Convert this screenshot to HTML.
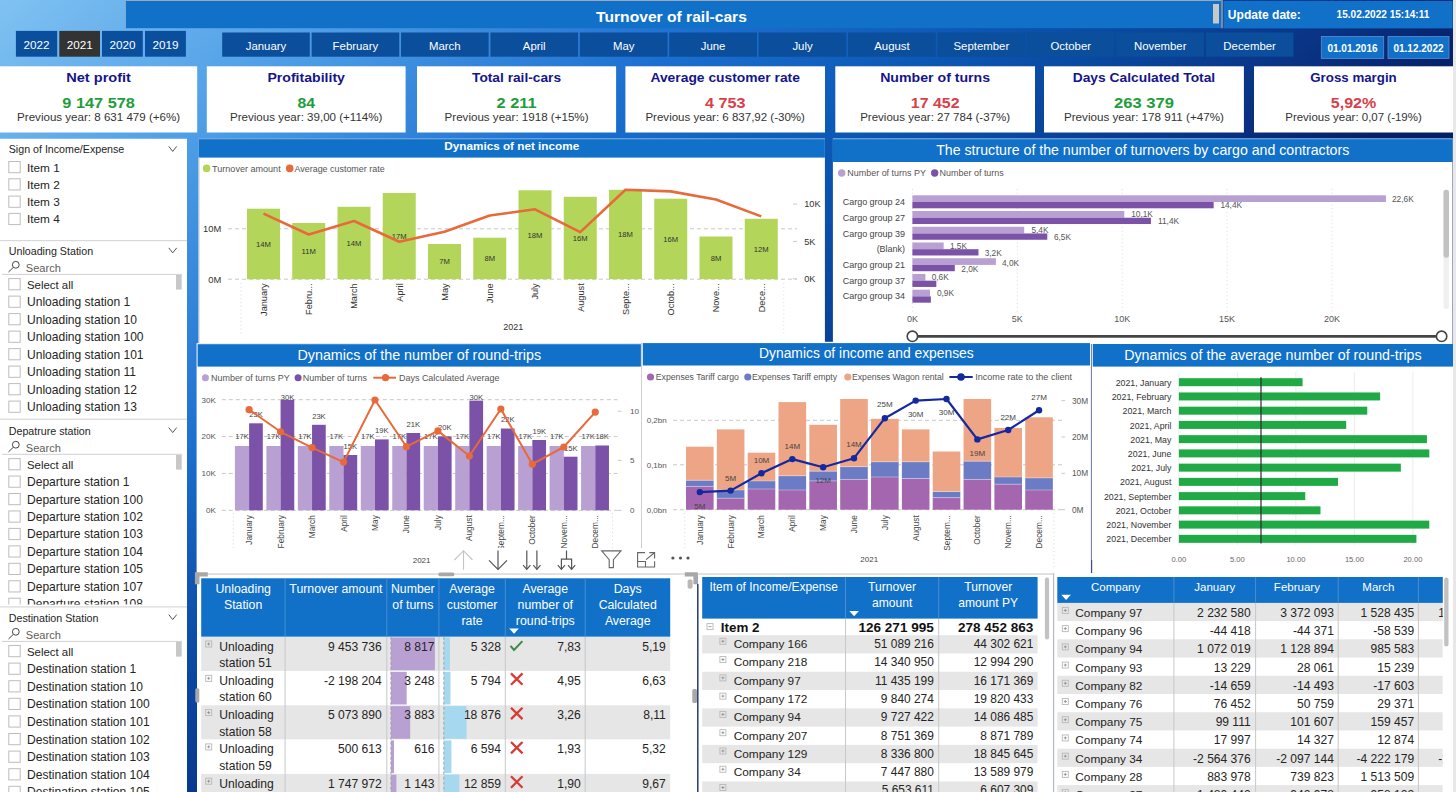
<!DOCTYPE html>
<html><head><meta charset="utf-8"><title>Turnover of rail-cars</title>
<style>html,body{margin:0;padding:0;width:1456px;height:792px;overflow:hidden;background:#0a3f92}
svg{display:block;font-family:"Liberation Sans", sans-serif}</style></head>
<body><svg width="1456" height="792" viewBox="0 0 1456 792">
<defs>
<linearGradient id="bg" x1="0" y1="0" x2="1000" y2="1200" gradientUnits="userSpaceOnUse">
<stop offset="0" stop-color="#80c2f2"/>
<stop offset="0.148" stop-color="#4d9de6"/>
<stop offset="0.30" stop-color="#1c6fd0"/>
<stop offset="0.41" stop-color="#0c58b4"/>
<stop offset="0.47" stop-color="#0a4aa2"/>
<stop offset="0.56" stop-color="#0a3384"/>
<stop offset="0.63" stop-color="#071f66"/>
<stop offset="1" stop-color="#061a5c"/>
</linearGradient>
<linearGradient id="bgv" x1="0" y1="450" x2="0" y2="792" gradientUnits="userSpaceOnUse">
<stop offset="0" stop-color="#062a80" stop-opacity="0"/>
<stop offset="1" stop-color="#062a80" stop-opacity="0.55"/>
</linearGradient>
</defs>
<rect x="0.00" y="0.00" width="1456.00" height="792.00" fill="url(#bg)" />
<rect x="0.00" y="450.00" width="1456.00" height="342.00" fill="url(#bgv)" />
<rect x="1453.00" y="0.00" width="3.00" height="792.00" fill="#e8e8e8" />
<rect x="126.00" y="0.00" width="1096.00" height="1.20" fill="#9aa8b8" />
<rect x="125.50" y="0.00" width="1.00" height="28.20" fill="#8aa0b8" />
<rect x="126.00" y="1.00" width="1096.00" height="27.20" fill="#1170c8" />
<text x="671.50" y="21.90" font-size="14.4" fill="#fff" font-weight="bold" text-anchor="middle" textLength="150.8" lengthAdjust="spacingAndGlyphs" >Turnover of rail-cars</text>
<rect x="1213.00" y="4.00" width="6.00" height="19.50" fill="#c8c8c8" />
<rect x="1221.00" y="0.00" width="2.00" height="28.20" fill="#7b8aa0" />
<rect x="1223.50" y="1.00" width="229.20" height="27.40" fill="#1170c8" />
<text x="1227.80" y="18.60" font-size="12.07" fill="#fff" font-weight="bold" text-anchor="start" >Update date:</text>
<text x="1336.60" y="18.00" font-size="10.06" fill="#fff" font-weight="bold" text-anchor="start" >15.02.2022 15:14:11</text>
<rect x="15.90" y="30.90" width="41.30" height="25.80" fill="#0a4f9e" />
<text x="36.55" y="48.90" font-size="11.7" fill="#fff" font-weight="normal" text-anchor="middle" >2022</text>
<rect x="59.30" y="30.90" width="40.70" height="25.80" fill="#333333" />
<text x="79.65" y="48.90" font-size="11.7" fill="#fff" font-weight="normal" text-anchor="middle" >2021</text>
<rect x="102.00" y="30.90" width="40.80" height="25.80" fill="#0a4f9e" />
<text x="122.40" y="48.90" font-size="11.7" fill="#fff" font-weight="normal" text-anchor="middle" >2020</text>
<rect x="145.00" y="30.90" width="40.90" height="25.80" fill="#0a4f9e" />
<text x="165.45" y="48.90" font-size="11.7" fill="#fff" font-weight="normal" text-anchor="middle" >2019</text>
<rect x="222.20" y="32.50" width="87.60" height="24.20" fill="#0b4e9c" />
<text x="266.00" y="49.70" font-size="11.4" fill="#fff" font-weight="normal" text-anchor="middle" >January</text>
<rect x="311.62" y="32.50" width="87.60" height="24.20" fill="#0b4e9c" />
<text x="355.42" y="49.70" font-size="11.4" fill="#fff" font-weight="normal" text-anchor="middle" >February</text>
<rect x="401.04" y="32.50" width="87.60" height="24.20" fill="#0b4e9c" />
<text x="444.84" y="49.70" font-size="11.4" fill="#fff" font-weight="normal" text-anchor="middle" >March</text>
<rect x="490.46" y="32.50" width="87.60" height="24.20" fill="#0b4e9c" />
<text x="534.26" y="49.70" font-size="11.4" fill="#fff" font-weight="normal" text-anchor="middle" >April</text>
<rect x="579.88" y="32.50" width="87.60" height="24.20" fill="#0b4e9c" />
<text x="623.68" y="49.70" font-size="11.4" fill="#fff" font-weight="normal" text-anchor="middle" >May</text>
<rect x="669.30" y="32.50" width="87.60" height="24.20" fill="#0b4e9c" />
<text x="713.10" y="49.70" font-size="11.4" fill="#fff" font-weight="normal" text-anchor="middle" >June</text>
<rect x="758.72" y="32.50" width="87.60" height="24.20" fill="#0b4e9c" />
<text x="802.52" y="49.70" font-size="11.4" fill="#fff" font-weight="normal" text-anchor="middle" >July</text>
<rect x="848.14" y="32.50" width="87.60" height="24.20" fill="#0b4e9c" />
<text x="891.94" y="49.70" font-size="11.4" fill="#fff" font-weight="normal" text-anchor="middle" >August</text>
<rect x="937.56" y="32.50" width="87.60" height="24.20" fill="#0b4e9c" />
<text x="981.36" y="49.70" font-size="11.4" fill="#fff" font-weight="normal" text-anchor="middle" >September</text>
<rect x="1026.98" y="32.50" width="87.60" height="24.20" fill="#0b4e9c" />
<text x="1070.78" y="49.70" font-size="11.4" fill="#fff" font-weight="normal" text-anchor="middle" >October</text>
<rect x="1116.40" y="32.50" width="87.60" height="24.20" fill="#0b4e9c" />
<text x="1160.20" y="49.70" font-size="11.4" fill="#fff" font-weight="normal" text-anchor="middle" >November</text>
<rect x="1205.82" y="32.50" width="87.60" height="24.20" fill="#0b4e9c" />
<text x="1249.62" y="49.70" font-size="11.4" fill="#fff" font-weight="normal" text-anchor="middle" >December</text>
<rect x="1321.30" y="36.40" width="62.40" height="22.00" fill="#1170c8"  stroke="#5a8fd0" stroke-width="0.8"/>
<text x="1352.50" y="51.50" font-size="10" fill="#fff" font-weight="bold" text-anchor="middle" >01.01.2016</text>
<rect x="1388.00" y="36.40" width="61.00" height="22.00" fill="#1170c8"  stroke="#5a8fd0" stroke-width="0.8"/>
<text x="1418.50" y="51.50" font-size="10" fill="#fff" font-weight="bold" text-anchor="middle" >01.12.2022</text>
<rect x="0.00" y="66.30" width="197.20" height="66.20" fill="#fff" />
<text x="98.60" y="81.80" font-size="13.0" fill="#15158a" font-weight="bold" text-anchor="middle" textLength="64.7" lengthAdjust="spacingAndGlyphs" >Net profit</text>
<text x="98.60" y="107.90" font-size="14.8" fill="#1e9e3a" font-weight="bold" text-anchor="middle" textLength="72.5" lengthAdjust="spacingAndGlyphs" >9 147 578</text>
<text x="98.60" y="120.90" font-size="11.57" fill="#333" font-weight="normal" text-anchor="middle" textLength="163.0" lengthAdjust="spacingAndGlyphs" >Previous year: 8 631 479 (+6%)</text>
<rect x="206.80" y="66.30" width="198.80" height="66.20" fill="#fff" />
<text x="306.20" y="81.80" font-size="13.0" fill="#15158a" font-weight="bold" text-anchor="middle" textLength="77.5" lengthAdjust="spacingAndGlyphs" >Profitability</text>
<text x="306.20" y="107.90" font-size="14.8" fill="#1e9e3a" font-weight="bold" text-anchor="middle" textLength="17.5" lengthAdjust="spacingAndGlyphs" >84</text>
<text x="306.20" y="120.90" font-size="11.57" fill="#333" font-weight="normal" text-anchor="middle" textLength="152.5" lengthAdjust="spacingAndGlyphs" >Previous year: 39,00 (+114%)</text>
<rect x="417.00" y="66.30" width="199.10" height="66.20" fill="#fff" />
<text x="516.55" y="81.80" font-size="13.0" fill="#15158a" font-weight="bold" text-anchor="middle" textLength="89.0" lengthAdjust="spacingAndGlyphs" >Total rail-cars</text>
<text x="516.55" y="107.90" font-size="14.8" fill="#1e9e3a" font-weight="bold" text-anchor="middle" textLength="40.0" lengthAdjust="spacingAndGlyphs" >2 211</text>
<text x="516.55" y="120.90" font-size="11.57" fill="#333" font-weight="normal" text-anchor="middle" textLength="144.0" lengthAdjust="spacingAndGlyphs" >Previous year: 1918 (+15%)</text>
<rect x="625.40" y="66.30" width="199.60" height="66.20" fill="#fff" />
<text x="725.20" y="81.80" font-size="13.0" fill="#15158a" font-weight="bold" text-anchor="middle" textLength="149.5" lengthAdjust="spacingAndGlyphs" >Average customer rate</text>
<text x="725.20" y="107.90" font-size="14.8" fill="#d9404a" font-weight="bold" text-anchor="middle" textLength="40.5" lengthAdjust="spacingAndGlyphs" >4 753</text>
<text x="725.20" y="120.90" font-size="11.57" fill="#333" font-weight="normal" text-anchor="middle" textLength="159.5" lengthAdjust="spacingAndGlyphs" >Previous year: 6 837,92 (-30%)</text>
<rect x="835.30" y="66.30" width="199.70" height="66.20" fill="#fff" />
<text x="935.15" y="81.80" font-size="13.0" fill="#15158a" font-weight="bold" text-anchor="middle" textLength="110.0" lengthAdjust="spacingAndGlyphs" >Number of turns</text>
<text x="935.15" y="107.90" font-size="14.8" fill="#d9404a" font-weight="bold" text-anchor="middle" textLength="48.7" lengthAdjust="spacingAndGlyphs" >17 452</text>
<text x="935.15" y="120.90" font-size="11.57" fill="#333" font-weight="normal" text-anchor="middle" textLength="150.0" lengthAdjust="spacingAndGlyphs" >Previous year: 27 784 (-37%)</text>
<rect x="1044.00" y="66.30" width="199.90" height="66.20" fill="#fff" />
<text x="1143.95" y="81.80" font-size="13.0" fill="#15158a" font-weight="bold" text-anchor="middle" textLength="142.5" lengthAdjust="spacingAndGlyphs" >Days Calculated Total</text>
<text x="1143.95" y="107.90" font-size="14.8" fill="#1e9e3a" font-weight="bold" text-anchor="middle" textLength="60.0" lengthAdjust="spacingAndGlyphs" >263 379</text>
<text x="1143.95" y="120.90" font-size="11.57" fill="#333" font-weight="normal" text-anchor="middle" textLength="160.0" lengthAdjust="spacingAndGlyphs" >Previous year: 178 911 (+47%)</text>
<rect x="1254.00" y="66.30" width="199.00" height="66.20" fill="#fff" />
<text x="1353.50" y="81.80" font-size="13.0" fill="#15158a" font-weight="bold" text-anchor="middle" textLength="86.5" lengthAdjust="spacingAndGlyphs" >Gross margin</text>
<text x="1353.50" y="107.90" font-size="14.8" fill="#d9404a" font-weight="bold" text-anchor="middle" textLength="45.5" lengthAdjust="spacingAndGlyphs" >5,92%</text>
<text x="1353.50" y="120.90" font-size="11.57" fill="#333" font-weight="normal" text-anchor="middle" textLength="136.5" lengthAdjust="spacingAndGlyphs" >Previous year: 0,07 (-19%)</text>
<rect x="0.00" y="138.75" width="187.00" height="653.25" fill="#fff" />
<text x="8.75" y="153.30" font-size="10.66" fill="#252423" font-weight="normal" text-anchor="start" >Sign of Income/Expense</text>
<polyline points="168.8,146.40 172.7,151.40 176.7,146.40" fill="none" stroke="#555" stroke-width="1"/>
<rect x="8.80" y="161.50" width="11.40" height="11.20" fill="#fff"  stroke="#bdbdbd" stroke-width="1"/>
<text x="27.00" y="171.50" font-size="11.8" fill="#252423" font-weight="normal" text-anchor="start" >Item 1</text>
<rect x="8.80" y="178.80" width="11.40" height="11.20" fill="#fff"  stroke="#bdbdbd" stroke-width="1"/>
<text x="27.00" y="188.80" font-size="11.8" fill="#252423" font-weight="normal" text-anchor="start" >Item 2</text>
<rect x="8.80" y="196.10" width="11.40" height="11.20" fill="#fff"  stroke="#bdbdbd" stroke-width="1"/>
<text x="27.00" y="206.10" font-size="11.8" fill="#252423" font-weight="normal" text-anchor="start" >Item 3</text>
<rect x="8.80" y="213.40" width="11.40" height="11.20" fill="#fff"  stroke="#bdbdbd" stroke-width="1"/>
<text x="27.00" y="223.40" font-size="11.8" fill="#252423" font-weight="normal" text-anchor="start" >Item 4</text>
<rect x="0.00" y="240.00" width="187.00" height="1.20" fill="#d8d8d8" />
<text x="8.75" y="254.80" font-size="10.69" fill="#252423" font-weight="normal" text-anchor="start" >Unloading Station</text>
<polyline points="168.8,247.90 172.7,252.90 176.7,247.90" fill="none" stroke="#555" stroke-width="1"/>
<circle cx="15.8" cy="264.80" r="3.4" fill="none" stroke="#444" stroke-width="1"/>
<line x1="8.50" y1="272.00" x2="13.30" y2="267.40" stroke="#444" stroke-width="1" />
<text x="25.80" y="271.70" font-size="11.05" fill="#605e5c" font-weight="normal" text-anchor="start" >Search</text>
<rect x="2.00" y="273.90" width="180.00" height="1.00" fill="#d0d0d0" />
<rect x="176.00" y="275.00" width="5.70" height="14.60" fill="#c8c8c8" />
<rect x="8.80" y="278.60" width="11.40" height="11.20" fill="#fff"  stroke="#bdbdbd" stroke-width="1"/>
<text x="27.00" y="288.60" font-size="11.41" fill="#252423" font-weight="normal" text-anchor="start" >Select all</text>
<rect x="8.80" y="296.10" width="11.40" height="11.20" fill="#fff"  stroke="#bdbdbd" stroke-width="1"/>
<text x="27.00" y="306.10" font-size="12.05" fill="#252423" font-weight="normal" text-anchor="start" >Unloading station 1</text>
<rect x="8.80" y="313.60" width="11.40" height="11.20" fill="#fff"  stroke="#bdbdbd" stroke-width="1"/>
<text x="27.00" y="323.60" font-size="12.05" fill="#252423" font-weight="normal" text-anchor="start" >Unloading station 10</text>
<rect x="8.80" y="331.10" width="11.40" height="11.20" fill="#fff"  stroke="#bdbdbd" stroke-width="1"/>
<text x="27.00" y="341.10" font-size="12.05" fill="#252423" font-weight="normal" text-anchor="start" >Unloading station 100</text>
<rect x="8.80" y="348.60" width="11.40" height="11.20" fill="#fff"  stroke="#bdbdbd" stroke-width="1"/>
<text x="27.00" y="358.60" font-size="12.05" fill="#252423" font-weight="normal" text-anchor="start" >Unloading station 101</text>
<rect x="8.80" y="366.10" width="11.40" height="11.20" fill="#fff"  stroke="#bdbdbd" stroke-width="1"/>
<text x="27.00" y="376.10" font-size="12.05" fill="#252423" font-weight="normal" text-anchor="start" >Unloading station 11</text>
<rect x="8.80" y="383.60" width="11.40" height="11.20" fill="#fff"  stroke="#bdbdbd" stroke-width="1"/>
<text x="27.00" y="393.60" font-size="12.05" fill="#252423" font-weight="normal" text-anchor="start" >Unloading station 12</text>
<rect x="8.80" y="401.10" width="11.40" height="11.20" fill="#fff"  stroke="#bdbdbd" stroke-width="1"/>
<text x="27.00" y="411.10" font-size="12.05" fill="#252423" font-weight="normal" text-anchor="start" >Unloading station 13</text>
<rect x="0.00" y="418.60" width="187.00" height="1.20" fill="#d8d8d8" />
<text x="8.75" y="434.50" font-size="10.69" fill="#252423" font-weight="normal" text-anchor="start" >Depatrure station</text>
<polyline points="168.8,427.60 172.7,432.60 176.7,427.60" fill="none" stroke="#555" stroke-width="1"/>
<circle cx="15.8" cy="444.70" r="3.4" fill="none" stroke="#444" stroke-width="1"/>
<line x1="8.50" y1="451.90" x2="13.30" y2="447.30" stroke="#444" stroke-width="1" />
<text x="25.80" y="451.60" font-size="11.05" fill="#605e5c" font-weight="normal" text-anchor="start" >Search</text>
<rect x="2.00" y="453.80" width="180.00" height="1.00" fill="#d0d0d0" />
<rect x="176.00" y="455.00" width="5.70" height="14.60" fill="#c8c8c8" />
<clipPath id="cs3"><rect x="0" y="455" width="187" height="149.5"/></clipPath><g clip-path="url(#cs3)">
<rect x="8.80" y="458.60" width="11.40" height="11.20" fill="#fff"  stroke="#bdbdbd" stroke-width="1"/>
<text x="27.00" y="468.60" font-size="11.41" fill="#252423" font-weight="normal" text-anchor="start" >Select all</text>
<rect x="8.80" y="476.05" width="11.40" height="11.20" fill="#fff"  stroke="#bdbdbd" stroke-width="1"/>
<text x="27.00" y="486.05" font-size="12.05" fill="#252423" font-weight="normal" text-anchor="start" >Departure station 1</text>
<rect x="8.80" y="493.50" width="11.40" height="11.20" fill="#fff"  stroke="#bdbdbd" stroke-width="1"/>
<text x="27.00" y="503.50" font-size="12.05" fill="#252423" font-weight="normal" text-anchor="start" >Departure station 100</text>
<rect x="8.80" y="510.95" width="11.40" height="11.20" fill="#fff"  stroke="#bdbdbd" stroke-width="1"/>
<text x="27.00" y="520.95" font-size="12.05" fill="#252423" font-weight="normal" text-anchor="start" >Departure station 102</text>
<rect x="8.80" y="528.40" width="11.40" height="11.20" fill="#fff"  stroke="#bdbdbd" stroke-width="1"/>
<text x="27.00" y="538.40" font-size="12.05" fill="#252423" font-weight="normal" text-anchor="start" >Departure station 103</text>
<rect x="8.80" y="545.85" width="11.40" height="11.20" fill="#fff"  stroke="#bdbdbd" stroke-width="1"/>
<text x="27.00" y="555.85" font-size="12.05" fill="#252423" font-weight="normal" text-anchor="start" >Departure station 104</text>
<rect x="8.80" y="563.30" width="11.40" height="11.20" fill="#fff"  stroke="#bdbdbd" stroke-width="1"/>
<text x="27.00" y="573.30" font-size="12.05" fill="#252423" font-weight="normal" text-anchor="start" >Departure station 105</text>
<rect x="8.80" y="580.75" width="11.40" height="11.20" fill="#fff"  stroke="#bdbdbd" stroke-width="1"/>
<text x="27.00" y="590.75" font-size="12.05" fill="#252423" font-weight="normal" text-anchor="start" >Departure station 107</text>
<rect x="8.80" y="598.20" width="11.40" height="11.20" fill="#fff"  stroke="#bdbdbd" stroke-width="1"/>
<text x="27.00" y="608.20" font-size="12.05" fill="#252423" font-weight="normal" text-anchor="start" >Departure station 108</text>
</g>
<rect x="0.00" y="606.30" width="187.00" height="1.20" fill="#d8d8d8" />
<text x="8.75" y="621.50" font-size="10.69" fill="#252423" font-weight="normal" text-anchor="start" >Destination Station</text>
<polyline points="168.8,614.60 172.7,619.60 176.7,614.60" fill="none" stroke="#555" stroke-width="1"/>
<circle cx="15.8" cy="631.80" r="3.4" fill="none" stroke="#444" stroke-width="1"/>
<line x1="8.50" y1="639.00" x2="13.30" y2="634.40" stroke="#444" stroke-width="1" />
<text x="25.80" y="638.70" font-size="11.05" fill="#605e5c" font-weight="normal" text-anchor="start" >Search</text>
<rect x="2.00" y="640.90" width="180.00" height="1.00" fill="#d0d0d0" />
<rect x="176.00" y="642.00" width="5.70" height="14.60" fill="#c8c8c8" />
<rect x="8.80" y="645.50" width="11.40" height="11.20" fill="#fff"  stroke="#bdbdbd" stroke-width="1"/>
<text x="27.00" y="655.50" font-size="11.41" fill="#252423" font-weight="normal" text-anchor="start" >Select all</text>
<rect x="8.80" y="663.10" width="11.40" height="11.20" fill="#fff"  stroke="#bdbdbd" stroke-width="1"/>
<text x="27.00" y="673.10" font-size="12.07" fill="#252423" font-weight="normal" text-anchor="start" >Destination station 1</text>
<rect x="8.80" y="680.70" width="11.40" height="11.20" fill="#fff"  stroke="#bdbdbd" stroke-width="1"/>
<text x="27.00" y="690.70" font-size="12.07" fill="#252423" font-weight="normal" text-anchor="start" >Destination station 10</text>
<rect x="8.80" y="698.30" width="11.40" height="11.20" fill="#fff"  stroke="#bdbdbd" stroke-width="1"/>
<text x="27.00" y="708.30" font-size="12.07" fill="#252423" font-weight="normal" text-anchor="start" >Destination station 100</text>
<rect x="8.80" y="715.90" width="11.40" height="11.20" fill="#fff"  stroke="#bdbdbd" stroke-width="1"/>
<text x="27.00" y="725.90" font-size="12.07" fill="#252423" font-weight="normal" text-anchor="start" >Destination station 101</text>
<rect x="8.80" y="733.50" width="11.40" height="11.20" fill="#fff"  stroke="#bdbdbd" stroke-width="1"/>
<text x="27.00" y="743.50" font-size="12.07" fill="#252423" font-weight="normal" text-anchor="start" >Destination station 102</text>
<rect x="8.80" y="751.10" width="11.40" height="11.20" fill="#fff"  stroke="#bdbdbd" stroke-width="1"/>
<text x="27.00" y="761.10" font-size="12.07" fill="#252423" font-weight="normal" text-anchor="start" >Destination station 103</text>
<rect x="8.80" y="768.70" width="11.40" height="11.20" fill="#fff"  stroke="#bdbdbd" stroke-width="1"/>
<text x="27.00" y="778.70" font-size="12.07" fill="#252423" font-weight="normal" text-anchor="start" >Destination station 104</text>
<rect x="8.80" y="786.30" width="11.40" height="11.20" fill="#fff"  stroke="#bdbdbd" stroke-width="1"/>
<text x="27.00" y="796.30" font-size="12.07" fill="#252423" font-weight="normal" text-anchor="start" >Destination station 105</text>
<rect x="198.60" y="138.50" width="626.30" height="204.80" fill="#fff" />
<rect x="198.60" y="138.50" width="626.30" height="19.10" fill="#1170c8" />
<rect x="198.60" y="138.50" width="626.30" height="0.80" fill="#7fb0e0" />
<text x="511.75" y="150.40" font-size="11.72" fill="#fff" font-weight="bold" text-anchor="middle" >Dynamics of net income</text>
<rect x="198.60" y="157.60" width="1.00" height="185.60" fill="#d0d0d0" />
<circle cx="206.60" cy="168.40" r="3.8" fill="#b3d65a" />
<text x="212.10" y="171.70" font-size="9.05" fill="#555" font-weight="normal" text-anchor="start" >Turnover amount</text>
<circle cx="289.70" cy="168.40" r="3.8" fill="#e8693a" />
<text x="294.50" y="171.70" font-size="8.94" fill="#555" font-weight="normal" text-anchor="start" >Average customer rate</text>
<line x1="228.00" y1="228.80" x2="797.00" y2="228.80" stroke="#c8c8c8" stroke-width="1" stroke-dasharray="4 3"/>
<line x1="228.00" y1="279.20" x2="797.00" y2="279.20" stroke="#c8c8c8" stroke-width="1" stroke-dasharray="4 3"/>
<text x="221.20" y="232.10" font-size="9.36" fill="#333" font-weight="normal" text-anchor="end" >10M</text>
<text x="221.20" y="282.60" font-size="9.36" fill="#333" font-weight="normal" text-anchor="end" >0M</text>
<line x1="793.00" y1="204.10" x2="797.00" y2="204.10" stroke="#c8c8c8" stroke-width="1" />
<text x="804.20" y="207.40" font-size="9.2" fill="#333" font-weight="normal" text-anchor="start" >10K</text>
<line x1="793.00" y1="241.40" x2="797.00" y2="241.40" stroke="#c8c8c8" stroke-width="1" />
<text x="804.20" y="244.70" font-size="9.2" fill="#333" font-weight="normal" text-anchor="start" >5K</text>
<line x1="793.00" y1="278.80" x2="797.00" y2="278.80" stroke="#c8c8c8" stroke-width="1" />
<text x="804.20" y="282.10" font-size="9.2" fill="#333" font-weight="normal" text-anchor="start" >0K</text>
<rect x="247.00" y="208.70" width="33.00" height="70.50" fill="#b3d65a" />
<rect x="292.25" y="223.00" width="33.00" height="56.20" fill="#b3d65a" />
<rect x="337.50" y="206.80" width="33.00" height="72.40" fill="#b3d65a" />
<rect x="382.75" y="193.00" width="33.00" height="86.20" fill="#b3d65a" />
<rect x="428.00" y="244.00" width="33.00" height="35.20" fill="#b3d65a" />
<rect x="473.25" y="237.70" width="33.00" height="41.50" fill="#b3d65a" />
<rect x="518.50" y="190.30" width="33.00" height="88.90" fill="#b3d65a" />
<rect x="563.75" y="196.80" width="33.00" height="82.40" fill="#b3d65a" />
<rect x="609.00" y="189.80" width="33.00" height="89.40" fill="#b3d65a" />
<rect x="654.25" y="198.70" width="33.00" height="80.50" fill="#b3d65a" />
<rect x="699.50" y="236.50" width="33.00" height="42.70" fill="#b3d65a" />
<rect x="744.75" y="218.80" width="33.00" height="60.40" fill="#b3d65a" />
<text x="263.50" y="246.75" font-size="7.66" fill="#333" font-weight="normal" text-anchor="middle" >14M</text>
<text x="308.75" y="253.90" font-size="7.66" fill="#333" font-weight="normal" text-anchor="middle" >11M</text>
<text x="354.00" y="245.80" font-size="7.66" fill="#333" font-weight="normal" text-anchor="middle" >14M</text>
<text x="399.25" y="238.90" font-size="7.66" fill="#333" font-weight="normal" text-anchor="middle" >17M</text>
<text x="444.50" y="264.40" font-size="7.66" fill="#333" font-weight="normal" text-anchor="middle" >7M</text>
<text x="489.75" y="261.25" font-size="7.66" fill="#333" font-weight="normal" text-anchor="middle" >8M</text>
<text x="535.00" y="237.55" font-size="7.66" fill="#333" font-weight="normal" text-anchor="middle" >18M</text>
<text x="580.25" y="240.80" font-size="7.66" fill="#333" font-weight="normal" text-anchor="middle" >16M</text>
<text x="625.50" y="237.30" font-size="7.66" fill="#333" font-weight="normal" text-anchor="middle" >18M</text>
<text x="670.75" y="241.75" font-size="7.66" fill="#333" font-weight="normal" text-anchor="middle" >16M</text>
<text x="716.00" y="260.65" font-size="7.66" fill="#333" font-weight="normal" text-anchor="middle" >8M</text>
<text x="761.25" y="251.80" font-size="7.66" fill="#333" font-weight="normal" text-anchor="middle" >12M</text>
<polyline points="263.50,213.60 308.75,234.50 354.00,221.00 399.25,241.80 444.50,231.80 489.75,215.50 535.00,209.30 580.25,232.10 625.50,189.80 670.75,191.40 716.00,199.50 761.25,216.40" stroke="#e8693a" stroke-width="2.6" fill="none" stroke-linejoin="round" />
<text transform="translate(266.90,283.30) rotate(-90)" font-size="9.19" fill="#333" text-anchor="end" >January</text>
<text transform="translate(312.15,283.30) rotate(-90)" font-size="9.19" fill="#333" text-anchor="end" >Febru...</text>
<text transform="translate(357.40,283.30) rotate(-90)" font-size="9.19" fill="#333" text-anchor="end" >March</text>
<text transform="translate(402.65,283.30) rotate(-90)" font-size="9.19" fill="#333" text-anchor="end" >April</text>
<text transform="translate(447.90,283.30) rotate(-90)" font-size="9.19" fill="#333" text-anchor="end" >May</text>
<text transform="translate(493.15,283.30) rotate(-90)" font-size="9.19" fill="#333" text-anchor="end" >June</text>
<text transform="translate(538.40,283.30) rotate(-90)" font-size="9.19" fill="#333" text-anchor="end" >July</text>
<text transform="translate(583.65,283.30) rotate(-90)" font-size="9.19" fill="#333" text-anchor="end" >August</text>
<text transform="translate(628.90,283.30) rotate(-90)" font-size="9.19" fill="#333" text-anchor="end" >Septe...</text>
<text transform="translate(674.15,283.30) rotate(-90)" font-size="9.19" fill="#333" text-anchor="end" >Octob...</text>
<text transform="translate(719.40,283.30) rotate(-90)" font-size="9.19" fill="#333" text-anchor="end" >Nove...</text>
<text transform="translate(764.65,283.30) rotate(-90)" font-size="9.19" fill="#333" text-anchor="end" >Dece...</text>
<text x="503.30" y="330.20" font-size="9.0" fill="#333" font-weight="normal" text-anchor="start" >2021</text>
<line x1="241.00" y1="283.00" x2="241.00" y2="336.00" stroke="#d8d8d8" stroke-width="1" stroke-dasharray="1 2.8"/>
<line x1="783.80" y1="283.00" x2="783.80" y2="336.00" stroke="#d8d8d8" stroke-width="1" stroke-dasharray="1 2.8"/>
<rect x="832.90" y="138.50" width="619.70" height="205.70" fill="#fff" />
<rect x="832.90" y="138.50" width="619.70" height="23.50" fill="#1170c8" />
<rect x="832.90" y="138.50" width="619.70" height="0.80" fill="#7fb0e0" />
<text x="1142.75" y="155.30" font-size="14.17" fill="#fff" font-weight="normal" text-anchor="middle" >The structure of the number of turnovers by cargo and contractors</text>
<rect x="824.00" y="341.80" width="10.00" height="2.00" fill="#fff" />
<circle cx="841.70" cy="173.00" r="3.7" fill="#b9a0d3" />
<text x="847.30" y="176.40" font-size="8.96" fill="#555" font-weight="normal" text-anchor="start" >Number of turns PY</text>
<circle cx="934.70" cy="173.00" r="3.7" fill="#7b52a8" />
<text x="939.60" y="176.40" font-size="8.96" fill="#555" font-weight="normal" text-anchor="start" >Number of turns</text>
<line x1="912.40" y1="189.00" x2="912.40" y2="312.00" stroke="#dcdcdc" stroke-width="1" stroke-dasharray="1 2.8"/>
<text x="912.40" y="321.70" font-size="9.0" fill="#555" font-weight="normal" text-anchor="middle" >0K</text>
<line x1="1017.30" y1="189.00" x2="1017.30" y2="312.00" stroke="#dcdcdc" stroke-width="1" stroke-dasharray="1 2.8"/>
<text x="1017.30" y="321.70" font-size="9.0" fill="#555" font-weight="normal" text-anchor="middle" >5K</text>
<line x1="1122.20" y1="189.00" x2="1122.20" y2="312.00" stroke="#dcdcdc" stroke-width="1" stroke-dasharray="1 2.8"/>
<text x="1122.20" y="321.70" font-size="9.0" fill="#555" font-weight="normal" text-anchor="middle" >10K</text>
<line x1="1227.10" y1="189.00" x2="1227.10" y2="312.00" stroke="#dcdcdc" stroke-width="1" stroke-dasharray="1 2.8"/>
<text x="1227.10" y="321.70" font-size="9.0" fill="#555" font-weight="normal" text-anchor="middle" >15K</text>
<line x1="1332.00" y1="189.00" x2="1332.00" y2="312.00" stroke="#dcdcdc" stroke-width="1" stroke-dasharray="1 2.8"/>
<text x="1332.00" y="321.70" font-size="9.0" fill="#555" font-weight="normal" text-anchor="middle" >20K</text>
<text x="905.10" y="205.10" font-size="8.99" fill="#444" font-weight="normal" text-anchor="end" >Cargo group 24</text>
<rect x="912.40" y="195.30" width="473.52" height="6.70" fill="#b9a0d3" />
<rect x="912.40" y="202.00" width="301.27" height="6.30" fill="#7b52a8" />
<text x="905.10" y="220.83" font-size="8.99" fill="#444" font-weight="normal" text-anchor="end" >Cargo group 27</text>
<rect x="912.40" y="211.03" width="211.90" height="6.70" fill="#b9a0d3" />
<rect x="912.40" y="217.73" width="238.54" height="6.30" fill="#7b52a8" />
<text x="905.10" y="236.56" font-size="8.99" fill="#444" font-weight="normal" text-anchor="end" >Cargo group 39</text>
<rect x="912.40" y="226.76" width="111.82" height="6.70" fill="#b9a0d3" />
<rect x="912.40" y="233.46" width="134.90" height="6.30" fill="#7b52a8" />
<text x="905.10" y="252.29" font-size="8.99" fill="#444" font-weight="normal" text-anchor="end" >(Blank)</text>
<rect x="912.40" y="242.49" width="31.26" height="6.70" fill="#b9a0d3" />
<rect x="912.40" y="249.19" width="66.09" height="6.30" fill="#7b52a8" />
<text x="905.10" y="268.02" font-size="8.99" fill="#444" font-weight="normal" text-anchor="end" >Cargo group 21</text>
<rect x="912.40" y="258.22" width="83.50" height="6.70" fill="#b9a0d3" />
<rect x="912.40" y="264.92" width="42.38" height="6.30" fill="#7b52a8" />
<text x="905.10" y="283.75" font-size="8.99" fill="#444" font-weight="normal" text-anchor="end" >Cargo group 37</text>
<rect x="912.40" y="273.95" width="13.01" height="6.70" fill="#b9a0d3" />
<rect x="912.40" y="280.65" width="23.92" height="6.30" fill="#7b52a8" />
<text x="905.10" y="299.48" font-size="8.99" fill="#444" font-weight="normal" text-anchor="end" >Cargo group 34</text>
<rect x="912.40" y="289.68" width="17.62" height="6.70" fill="#b9a0d3" />
<rect x="912.40" y="296.38" width="18.46" height="6.30" fill="#7b52a8" />
<text x="1392.00" y="201.70" font-size="8.3" fill="#555" font-weight="normal" text-anchor="start" >22,6K</text>
<text x="1220.40" y="208.20" font-size="8.3" fill="#555" font-weight="normal" text-anchor="start" >14,4K</text>
<text x="1131.20" y="217.10" font-size="8.3" fill="#555" font-weight="normal" text-anchor="start" >10,1K</text>
<text x="1158.00" y="223.60" font-size="8.3" fill="#555" font-weight="normal" text-anchor="start" >11,4K</text>
<text x="1031.40" y="233.40" font-size="8.3" fill="#555" font-weight="normal" text-anchor="start" >5,4K</text>
<text x="1053.90" y="239.90" font-size="8.3" fill="#555" font-weight="normal" text-anchor="start" >6,5K</text>
<text x="949.90" y="249.20" font-size="8.3" fill="#555" font-weight="normal" text-anchor="start" >1,5K</text>
<text x="984.70" y="255.70" font-size="8.3" fill="#555" font-weight="normal" text-anchor="start" >3,2K</text>
<text x="1002.00" y="265.50" font-size="8.3" fill="#555" font-weight="normal" text-anchor="start" >4,0K</text>
<text x="961.30" y="272.00" font-size="8.3" fill="#555" font-weight="normal" text-anchor="start" >2,0K</text>
<text x="931.70" y="280.40" font-size="8.3" fill="#555" font-weight="normal" text-anchor="start" >0,6K</text>
<text x="936.90" y="296.10" font-size="8.3" fill="#555" font-weight="normal" text-anchor="start" >0,9K</text>
<rect x="1443.5" y="189.7" width="5.5" height="119.3" rx="2.7" fill="#f0f0f0"/>
<rect x="1443.5" y="189.7" width="5.5" height="68" rx="2.7" fill="#c2c2c2"/>
<line x1="912.40" y1="336.30" x2="1441.60" y2="336.30" stroke="#444" stroke-width="2.8" />
<circle cx="912.40" cy="336.30" r="5.2" fill="#fff"  stroke="#444" stroke-width="1.6"/>
<circle cx="1441.60" cy="336.30" r="5.2" fill="#fff"  stroke="#444" stroke-width="1.6"/>
<rect x="196.60" y="343.20" width="444.90" height="229.80" fill="#fff" />
<rect x="197.60" y="344.20" width="443.30" height="22.40" fill="#1170c8" />
<text x="419.25" y="360.30" font-size="14.34" fill="#fff" font-weight="normal" text-anchor="middle" >Dynamics of the number of round-trips</text>
<circle cx="205.40" cy="377.70" r="3.5" fill="#b9a0d3" />
<text x="211.00" y="380.90" font-size="8.96" fill="#555" font-weight="normal" text-anchor="start" >Number of turns PY</text>
<circle cx="298.10" cy="377.70" r="3.5" fill="#7b52a8" />
<text x="302.70" y="380.90" font-size="8.96" fill="#555" font-weight="normal" text-anchor="start" >Number of turns</text>
<line x1="373.30" y1="377.70" x2="396.00" y2="377.70" stroke="#e8693a" stroke-width="2" />
<circle cx="385.50" cy="377.70" r="3.6" fill="#e8693a" />
<text x="399.00" y="380.90" font-size="8.96" fill="#555" font-weight="normal" text-anchor="start" >Days Calculated Average</text>
<line x1="221.80" y1="510.30" x2="617.50" y2="510.30" stroke="#c8c8c8" stroke-width="1" stroke-dasharray="4 3"/>
<text x="215.80" y="513.20" font-size="8.04" fill="#555" font-weight="normal" text-anchor="end" >0K</text>
<line x1="221.80" y1="473.43" x2="617.50" y2="473.43" stroke="#c8c8c8" stroke-width="1" stroke-dasharray="4 3"/>
<text x="215.80" y="476.33" font-size="8.04" fill="#555" font-weight="normal" text-anchor="end" >10K</text>
<line x1="221.80" y1="436.56" x2="617.50" y2="436.56" stroke="#c8c8c8" stroke-width="1" stroke-dasharray="4 3"/>
<text x="215.80" y="439.46" font-size="8.04" fill="#555" font-weight="normal" text-anchor="end" >20K</text>
<line x1="221.80" y1="399.69" x2="617.50" y2="399.69" stroke="#c8c8c8" stroke-width="1" stroke-dasharray="4 3"/>
<text x="215.80" y="402.59" font-size="8.04" fill="#555" font-weight="normal" text-anchor="end" >30K</text>
<line x1="617.90" y1="411.20" x2="621.50" y2="411.20" stroke="#c8c8c8" stroke-width="1" />
<text x="630.00" y="414.10" font-size="8.04" fill="#555" font-weight="normal" text-anchor="start" >10</text>
<line x1="617.90" y1="460.30" x2="621.50" y2="460.30" stroke="#c8c8c8" stroke-width="1" />
<text x="630.00" y="463.20" font-size="8.04" fill="#555" font-weight="normal" text-anchor="start" >5</text>
<line x1="617.90" y1="510.30" x2="621.50" y2="510.30" stroke="#c8c8c8" stroke-width="1" />
<text x="630.00" y="513.20" font-size="8.04" fill="#555" font-weight="normal" text-anchor="start" >0</text>
<rect x="234.90" y="446.00" width="14.20" height="64.30" fill="#b9a0d3" />
<rect x="249.10" y="423.30" width="13.70" height="87.00" fill="#7b52a8" />
<rect x="266.37" y="446.00" width="14.20" height="64.30" fill="#b9a0d3" />
<rect x="280.57" y="400.00" width="13.70" height="110.30" fill="#7b52a8" />
<rect x="297.84" y="446.00" width="14.20" height="64.30" fill="#b9a0d3" />
<rect x="312.04" y="424.80" width="13.70" height="85.50" fill="#7b52a8" />
<rect x="329.31" y="446.00" width="14.20" height="64.30" fill="#b9a0d3" />
<rect x="343.51" y="455.00" width="13.70" height="55.30" fill="#7b52a8" />
<rect x="360.78" y="446.00" width="14.20" height="64.30" fill="#b9a0d3" />
<rect x="374.98" y="439.40" width="13.70" height="70.90" fill="#7b52a8" />
<rect x="392.25" y="446.00" width="14.20" height="64.30" fill="#b9a0d3" />
<rect x="406.45" y="433.00" width="13.70" height="77.30" fill="#7b52a8" />
<rect x="423.72" y="446.00" width="14.20" height="64.30" fill="#b9a0d3" />
<rect x="437.92" y="436.40" width="13.70" height="73.90" fill="#7b52a8" />
<rect x="455.19" y="446.00" width="14.20" height="64.30" fill="#b9a0d3" />
<rect x="469.39" y="400.60" width="13.70" height="109.70" fill="#7b52a8" />
<rect x="486.66" y="446.00" width="14.20" height="64.30" fill="#b9a0d3" />
<rect x="500.86" y="428.50" width="13.70" height="81.80" fill="#7b52a8" />
<rect x="518.13" y="446.00" width="14.20" height="64.30" fill="#b9a0d3" />
<rect x="532.33" y="440.00" width="13.70" height="70.30" fill="#7b52a8" />
<rect x="549.60" y="446.00" width="14.20" height="64.30" fill="#b9a0d3" />
<rect x="563.80" y="456.70" width="13.70" height="53.60" fill="#7b52a8" />
<rect x="581.07" y="446.00" width="14.20" height="64.30" fill="#b9a0d3" />
<rect x="595.27" y="445.50" width="13.70" height="64.80" fill="#7b52a8" />
<text x="242.00" y="439.30" font-size="7.64" fill="#444" font-weight="normal" text-anchor="middle" >17K</text>
<text x="256.00" y="417.10" font-size="7.64" fill="#444" font-weight="normal" text-anchor="middle" >23K</text>
<text x="273.47" y="439.30" font-size="7.64" fill="#444" font-weight="normal" text-anchor="middle" >17K</text>
<text x="287.47" y="399.60" font-size="7.64" fill="#444" font-weight="normal" text-anchor="middle" >30K</text>
<text x="304.94" y="439.30" font-size="7.64" fill="#444" font-weight="normal" text-anchor="middle" >17K</text>
<text x="318.94" y="418.60" font-size="7.64" fill="#444" font-weight="normal" text-anchor="middle" >23K</text>
<text x="336.41" y="439.30" font-size="7.64" fill="#444" font-weight="normal" text-anchor="middle" >17K</text>
<text x="350.41" y="448.80" font-size="7.64" fill="#444" font-weight="normal" text-anchor="middle" >15K</text>
<text x="367.88" y="439.30" font-size="7.64" fill="#444" font-weight="normal" text-anchor="middle" >17K</text>
<text x="381.88" y="433.20" font-size="7.64" fill="#444" font-weight="normal" text-anchor="middle" >19K</text>
<text x="399.35" y="439.30" font-size="7.64" fill="#444" font-weight="normal" text-anchor="middle" >17K</text>
<text x="413.35" y="426.80" font-size="7.64" fill="#444" font-weight="normal" text-anchor="middle" >21K</text>
<text x="430.82" y="439.30" font-size="7.64" fill="#444" font-weight="normal" text-anchor="middle" >17K</text>
<text x="444.82" y="430.20" font-size="7.64" fill="#444" font-weight="normal" text-anchor="middle" >20K</text>
<text x="462.29" y="439.30" font-size="7.64" fill="#444" font-weight="normal" text-anchor="middle" >17K</text>
<text x="476.29" y="399.60" font-size="7.64" fill="#444" font-weight="normal" text-anchor="middle" >30K</text>
<text x="493.76" y="439.30" font-size="7.64" fill="#444" font-weight="normal" text-anchor="middle" >17K</text>
<text x="507.76" y="422.30" font-size="7.64" fill="#444" font-weight="normal" text-anchor="middle" >22K</text>
<text x="525.23" y="439.30" font-size="7.64" fill="#444" font-weight="normal" text-anchor="middle" >17K</text>
<text x="539.23" y="433.80" font-size="7.64" fill="#444" font-weight="normal" text-anchor="middle" >19K</text>
<text x="556.70" y="439.30" font-size="7.64" fill="#444" font-weight="normal" text-anchor="middle" >17K</text>
<text x="570.70" y="450.50" font-size="7.64" fill="#444" font-weight="normal" text-anchor="middle" >15K</text>
<text x="588.17" y="439.30" font-size="7.64" fill="#444" font-weight="normal" text-anchor="middle" >17K</text>
<text x="602.17" y="439.30" font-size="7.64" fill="#444" font-weight="normal" text-anchor="middle" >18K</text>
<polyline points="249.10,409.70 280.57,431.80 312.04,447.60 343.51,462.10 374.98,400.00 406.45,446.70 437.92,430.90 469.39,456.00 500.86,409.00 532.33,464.20 563.80,447.00 595.27,412.10" stroke="#e8693a" stroke-width="2" fill="none" stroke-linejoin="round" />
<circle cx="249.10" cy="409.70" r="3.6" fill="#e8693a" />
<circle cx="280.57" cy="431.80" r="3.6" fill="#e8693a" />
<circle cx="312.04" cy="447.60" r="3.6" fill="#e8693a" />
<circle cx="343.51" cy="462.10" r="3.6" fill="#e8693a" />
<circle cx="374.98" cy="400.00" r="3.6" fill="#e8693a" />
<circle cx="406.45" cy="446.70" r="3.6" fill="#e8693a" />
<circle cx="437.92" cy="430.90" r="3.6" fill="#e8693a" />
<circle cx="469.39" cy="456.00" r="3.6" fill="#e8693a" />
<circle cx="500.86" cy="409.00" r="3.6" fill="#e8693a" />
<circle cx="532.33" cy="464.20" r="3.6" fill="#e8693a" />
<circle cx="563.80" cy="447.00" r="3.6" fill="#e8693a" />
<circle cx="595.27" cy="412.10" r="3.6" fill="#e8693a" />
<clipPath id="cx3"><rect x="197" y="512" width="445" height="36"/></clipPath>
<g clip-path="url(#cx3)">
<text transform="translate(252.10,515.20) rotate(-90)" font-size="8.3" fill="#444" text-anchor="end" >January</text>
<text transform="translate(283.57,515.20) rotate(-90)" font-size="8.3" fill="#444" text-anchor="end" >February</text>
<text transform="translate(315.04,515.20) rotate(-90)" font-size="8.3" fill="#444" text-anchor="end" >March</text>
<text transform="translate(346.51,515.20) rotate(-90)" font-size="8.3" fill="#444" text-anchor="end" >April</text>
<text transform="translate(377.98,515.20) rotate(-90)" font-size="8.3" fill="#444" text-anchor="end" >May</text>
<text transform="translate(409.45,515.20) rotate(-90)" font-size="8.3" fill="#444" text-anchor="end" >June</text>
<text transform="translate(440.92,515.20) rotate(-90)" font-size="8.3" fill="#444" text-anchor="end" >July</text>
<text transform="translate(472.39,515.20) rotate(-90)" font-size="8.3" fill="#444" text-anchor="end" >August</text>
<text transform="translate(503.86,515.20) rotate(-90)" font-size="8.3" fill="#444" text-anchor="end" >Septem...</text>
<text transform="translate(535.33,515.20) rotate(-90)" font-size="8.3" fill="#444" text-anchor="end" >October</text>
<text transform="translate(566.80,515.20) rotate(-90)" font-size="8.3" fill="#444" text-anchor="end" >Novem...</text>
<text transform="translate(598.27,515.20) rotate(-90)" font-size="8.3" fill="#444" text-anchor="end" >Decem...</text>
</g>
<line x1="233.30" y1="513.00" x2="233.30" y2="548.00" stroke="#d8d8d8" stroke-width="1" stroke-dasharray="1 2.8"/>
<line x1="612.50" y1="513.00" x2="612.50" y2="548.00" stroke="#d8d8d8" stroke-width="1" stroke-dasharray="1 2.8"/>
<rect x="641.50" y="343.10" width="449.50" height="229.90" fill="#fff" />
<rect x="642.80" y="343.10" width="447.20" height="22.40" fill="#1170c8" />
<text x="866.40" y="358.20" font-size="13.85" fill="#fff" font-weight="normal" text-anchor="middle" >Dynamics of income and expenses</text>
<rect x="641.00" y="343.10" width="1.00" height="202.00" fill="#d0d0d0" />
<circle cx="650.50" cy="377.00" r="3.6" fill="#a466ae" />
<text x="655.80" y="380.20" font-size="8.68" fill="#555" font-weight="normal" text-anchor="start" >Expenses Tariff cargo</text>
<circle cx="747.80" cy="377.00" r="3.6" fill="#6b7bc4" />
<text x="752.00" y="380.20" font-size="8.68" fill="#555" font-weight="normal" text-anchor="start" >Expenses Tariff empty</text>
<circle cx="847.80" cy="377.00" r="3.6" fill="#eda585" />
<text x="852.00" y="380.20" font-size="8.68" fill="#555" font-weight="normal" text-anchor="start" >Expenses Wagon rental</text>
<line x1="949.40" y1="377.00" x2="972.70" y2="377.00" stroke="#1428a0" stroke-width="2" />
<circle cx="961.00" cy="377.00" r="3.8" fill="#1428a0" />
<text x="975.20" y="380.20" font-size="9.08" fill="#555" font-weight="normal" text-anchor="start" >Income rate to the client</text>
<line x1="673.00" y1="420.30" x2="1062.00" y2="420.30" stroke="#c8c8c8" stroke-width="1" stroke-dasharray="4 3"/>
<text x="666.70" y="423.20" font-size="7.99" fill="#555" font-weight="normal" text-anchor="end" >0,2bn</text>
<line x1="673.00" y1="464.80" x2="1062.00" y2="464.80" stroke="#c8c8c8" stroke-width="1" stroke-dasharray="4 3"/>
<text x="666.70" y="467.70" font-size="7.99" fill="#555" font-weight="normal" text-anchor="end" >0,1bn</text>
<line x1="673.00" y1="509.70" x2="1062.00" y2="509.70" stroke="#c8c8c8" stroke-width="1" stroke-dasharray="4 3"/>
<text x="666.70" y="512.60" font-size="7.99" fill="#555" font-weight="normal" text-anchor="end" >0,0bn</text>
<line x1="1061.50" y1="400.60" x2="1065.00" y2="400.60" stroke="#c8c8c8" stroke-width="1" />
<text x="1072.00" y="403.50" font-size="8.3" fill="#555" font-weight="normal" text-anchor="start" >30M</text>
<line x1="1061.50" y1="437.00" x2="1065.00" y2="437.00" stroke="#c8c8c8" stroke-width="1" />
<text x="1072.00" y="439.90" font-size="8.3" fill="#555" font-weight="normal" text-anchor="start" >20M</text>
<line x1="1061.50" y1="473.30" x2="1065.00" y2="473.30" stroke="#c8c8c8" stroke-width="1" />
<text x="1072.00" y="476.20" font-size="8.3" fill="#555" font-weight="normal" text-anchor="start" >10M</text>
<line x1="1061.50" y1="509.70" x2="1065.00" y2="509.70" stroke="#c8c8c8" stroke-width="1" />
<text x="1072.00" y="512.60" font-size="8.3" fill="#555" font-weight="normal" text-anchor="start" >0M</text>
<rect x="686.00" y="486.40" width="27.60" height="23.30" fill="#a466ae" />
<rect x="686.00" y="480.30" width="27.60" height="6.10" fill="#6b7bc4" />
<rect x="686.00" y="446.70" width="27.60" height="33.60" fill="#eda585" />
<rect x="686.00" y="485.90" width="27.60" height="1.00" fill="#fff"  fill-opacity="0.35"/>
<rect x="686.00" y="479.80" width="27.60" height="1.00" fill="#fff"  fill-opacity="0.35"/>
<rect x="716.84" y="498.20" width="27.60" height="11.50" fill="#a466ae" />
<rect x="716.84" y="490.00" width="27.60" height="8.20" fill="#6b7bc4" />
<rect x="716.84" y="429.40" width="27.60" height="60.60" fill="#eda585" />
<rect x="716.84" y="497.70" width="27.60" height="1.00" fill="#fff"  fill-opacity="0.35"/>
<rect x="716.84" y="489.50" width="27.60" height="1.00" fill="#fff"  fill-opacity="0.35"/>
<rect x="747.68" y="489.00" width="27.60" height="20.70" fill="#a466ae" />
<rect x="747.68" y="481.00" width="27.60" height="8.00" fill="#6b7bc4" />
<rect x="747.68" y="452.70" width="27.60" height="28.30" fill="#eda585" />
<rect x="747.68" y="488.50" width="27.60" height="1.00" fill="#fff"  fill-opacity="0.35"/>
<rect x="747.68" y="480.50" width="27.60" height="1.00" fill="#fff"  fill-opacity="0.35"/>
<rect x="778.52" y="490.00" width="27.60" height="19.70" fill="#a466ae" />
<rect x="778.52" y="475.80" width="27.60" height="14.20" fill="#6b7bc4" />
<rect x="778.52" y="402.10" width="27.60" height="73.70" fill="#eda585" />
<rect x="778.52" y="489.50" width="27.60" height="1.00" fill="#fff"  fill-opacity="0.35"/>
<rect x="778.52" y="475.30" width="27.60" height="1.00" fill="#fff"  fill-opacity="0.35"/>
<rect x="809.36" y="480.90" width="27.60" height="28.80" fill="#a466ae" />
<rect x="809.36" y="471.20" width="27.60" height="9.70" fill="#6b7bc4" />
<rect x="809.36" y="424.80" width="27.60" height="46.40" fill="#eda585" />
<rect x="809.36" y="480.40" width="27.60" height="1.00" fill="#fff"  fill-opacity="0.35"/>
<rect x="809.36" y="470.70" width="27.60" height="1.00" fill="#fff"  fill-opacity="0.35"/>
<rect x="840.20" y="479.40" width="27.60" height="30.30" fill="#a466ae" />
<rect x="840.20" y="466.70" width="27.60" height="12.70" fill="#6b7bc4" />
<rect x="840.20" y="399.00" width="27.60" height="67.70" fill="#eda585" />
<rect x="840.20" y="478.90" width="27.60" height="1.00" fill="#fff"  fill-opacity="0.35"/>
<rect x="840.20" y="466.20" width="27.60" height="1.00" fill="#fff"  fill-opacity="0.35"/>
<rect x="871.04" y="477.00" width="27.60" height="32.70" fill="#a466ae" />
<rect x="871.04" y="461.80" width="27.60" height="15.20" fill="#6b7bc4" />
<rect x="871.04" y="418.80" width="27.60" height="43.00" fill="#eda585" />
<rect x="871.04" y="476.50" width="27.60" height="1.00" fill="#fff"  fill-opacity="0.35"/>
<rect x="871.04" y="461.30" width="27.60" height="1.00" fill="#fff"  fill-opacity="0.35"/>
<rect x="901.88" y="478.50" width="27.60" height="31.20" fill="#a466ae" />
<rect x="901.88" y="461.80" width="27.60" height="16.70" fill="#6b7bc4" />
<rect x="901.88" y="429.40" width="27.60" height="32.40" fill="#eda585" />
<rect x="901.88" y="478.00" width="27.60" height="1.00" fill="#fff"  fill-opacity="0.35"/>
<rect x="901.88" y="461.30" width="27.60" height="1.00" fill="#fff"  fill-opacity="0.35"/>
<rect x="932.72" y="497.60" width="27.60" height="12.10" fill="#a466ae" />
<rect x="932.72" y="491.50" width="27.60" height="6.10" fill="#6b7bc4" />
<rect x="932.72" y="451.50" width="27.60" height="40.00" fill="#eda585" />
<rect x="932.72" y="497.10" width="27.60" height="1.00" fill="#fff"  fill-opacity="0.35"/>
<rect x="932.72" y="491.00" width="27.60" height="1.00" fill="#fff"  fill-opacity="0.35"/>
<rect x="963.56" y="479.40" width="27.60" height="30.30" fill="#a466ae" />
<rect x="963.56" y="461.20" width="27.60" height="18.20" fill="#6b7bc4" />
<rect x="963.56" y="399.00" width="27.60" height="62.20" fill="#eda585" />
<rect x="963.56" y="478.90" width="27.60" height="1.00" fill="#fff"  fill-opacity="0.35"/>
<rect x="963.56" y="460.70" width="27.60" height="1.00" fill="#fff"  fill-opacity="0.35"/>
<rect x="994.40" y="484.20" width="27.60" height="25.50" fill="#a466ae" />
<rect x="994.40" y="477.00" width="27.60" height="7.20" fill="#6b7bc4" />
<rect x="994.40" y="427.90" width="27.60" height="49.10" fill="#eda585" />
<rect x="994.40" y="483.70" width="27.60" height="1.00" fill="#fff"  fill-opacity="0.35"/>
<rect x="994.40" y="476.50" width="27.60" height="1.00" fill="#fff"  fill-opacity="0.35"/>
<rect x="1025.24" y="490.00" width="27.60" height="19.70" fill="#a466ae" />
<rect x="1025.24" y="477.90" width="27.60" height="12.10" fill="#6b7bc4" />
<rect x="1025.24" y="417.30" width="27.60" height="60.60" fill="#eda585" />
<rect x="1025.24" y="489.50" width="27.60" height="1.00" fill="#fff"  fill-opacity="0.35"/>
<rect x="1025.24" y="477.40" width="27.60" height="1.00" fill="#fff"  fill-opacity="0.35"/>
<polyline points="699.80,492.10 730.64,490.60 761.48,473.30 792.32,459.10 823.16,467.30 854.00,458.20 884.84,418.20 915.68,400.60 946.52,399.00 977.36,439.40 1008.20,430.00 1039.04,410.30" stroke="#1428a0" stroke-width="2.2" fill="none" stroke-linejoin="round" />
<circle cx="699.80" cy="492.10" r="3.2" fill="#1428a0" />
<circle cx="730.64" cy="490.60" r="3.2" fill="#1428a0" />
<circle cx="761.48" cy="473.30" r="3.2" fill="#1428a0" />
<circle cx="792.32" cy="459.10" r="3.2" fill="#1428a0" />
<circle cx="823.16" cy="467.30" r="3.2" fill="#1428a0" />
<circle cx="854.00" cy="458.20" r="3.2" fill="#1428a0" />
<circle cx="884.84" cy="418.20" r="3.2" fill="#1428a0" />
<circle cx="915.68" cy="400.60" r="3.2" fill="#1428a0" />
<circle cx="946.52" cy="399.00" r="3.2" fill="#1428a0" />
<circle cx="977.36" cy="439.40" r="3.2" fill="#1428a0" />
<circle cx="1008.20" cy="430.00" r="3.2" fill="#1428a0" />
<circle cx="1039.04" cy="410.30" r="3.2" fill="#1428a0" />
<text x="699.80" y="509.00" font-size="8.0" fill="#444" font-weight="normal" text-anchor="middle" >5M</text>
<text x="730.64" y="480.90" font-size="8.0" fill="#444" font-weight="normal" text-anchor="middle" >5M</text>
<text x="761.48" y="462.60" font-size="8.0" fill="#444" font-weight="normal" text-anchor="middle" >10M</text>
<text x="792.32" y="448.90" font-size="8.0" fill="#444" font-weight="normal" text-anchor="middle" >14M</text>
<text x="823.16" y="482.90" font-size="8.0" fill="#444" font-weight="normal" text-anchor="middle" >12M</text>
<text x="854.00" y="447.40" font-size="8.0" fill="#444" font-weight="normal" text-anchor="middle" >14M</text>
<text x="884.84" y="407.40" font-size="8.0" fill="#444" font-weight="normal" text-anchor="middle" >25M</text>
<text x="915.68" y="416.50" font-size="8.0" fill="#444" font-weight="normal" text-anchor="middle" >30M</text>
<text x="946.52" y="415.00" font-size="8.0" fill="#444" font-weight="normal" text-anchor="middle" >30M</text>
<text x="977.36" y="455.60" font-size="8.0" fill="#444" font-weight="normal" text-anchor="middle" >19M</text>
<text x="1008.20" y="420.20" font-size="8.0" fill="#444" font-weight="normal" text-anchor="middle" >22M</text>
<text x="1039.04" y="399.90" font-size="8.0" fill="#444" font-weight="normal" text-anchor="middle" >27M</text>
<clipPath id="cx4"><rect x="642" y="512" width="449" height="38.5"/></clipPath>
<g clip-path="url(#cx4)">
<text transform="translate(702.80,515.20) rotate(-90)" font-size="8.3" fill="#444" text-anchor="end" >January</text>
<text transform="translate(733.64,515.20) rotate(-90)" font-size="8.3" fill="#444" text-anchor="end" >February</text>
<text transform="translate(764.48,515.20) rotate(-90)" font-size="8.3" fill="#444" text-anchor="end" >March</text>
<text transform="translate(795.32,515.20) rotate(-90)" font-size="8.3" fill="#444" text-anchor="end" >April</text>
<text transform="translate(826.16,515.20) rotate(-90)" font-size="8.3" fill="#444" text-anchor="end" >May</text>
<text transform="translate(857.00,515.20) rotate(-90)" font-size="8.3" fill="#444" text-anchor="end" >June</text>
<text transform="translate(887.84,515.20) rotate(-90)" font-size="8.3" fill="#444" text-anchor="end" >July</text>
<text transform="translate(918.68,515.20) rotate(-90)" font-size="8.3" fill="#444" text-anchor="end" >August</text>
<text transform="translate(949.52,515.20) rotate(-90)" font-size="8.3" fill="#444" text-anchor="end" >Septem...</text>
<text transform="translate(980.36,515.20) rotate(-90)" font-size="8.3" fill="#444" text-anchor="end" >October</text>
<text transform="translate(1011.20,515.20) rotate(-90)" font-size="8.3" fill="#444" text-anchor="end" >Novem...</text>
<text transform="translate(1042.04,515.20) rotate(-90)" font-size="8.3" fill="#444" text-anchor="end" >Decem...</text>
</g>
<text x="869.20" y="561.80" font-size="8.0" fill="#444" font-weight="normal" text-anchor="middle" >2021</text>
<line x1="684.80" y1="513.00" x2="684.80" y2="568.00" stroke="#d8d8d8" stroke-width="1" stroke-dasharray="1 2.8"/>
<line x1="1054.00" y1="513.00" x2="1054.00" y2="568.00" stroke="#d8d8d8" stroke-width="1" stroke-dasharray="1 2.8"/>
<rect x="1091.00" y="344.00" width="362.00" height="229.00" fill="#fff" />
<rect x="1092.80" y="344.00" width="360.20" height="22.60" fill="#1170c8" />
<text x="1272.90" y="360.30" font-size="14.24" fill="#fff" font-weight="normal" text-anchor="middle" >Dynamics of the average number of round-trips</text>
<rect x="1090.90" y="344.00" width="1.00" height="229.00" fill="#6a7aa8" />
<line x1="1178.90" y1="372.00" x2="1178.90" y2="545.00" stroke="#ececec" stroke-width="1" />
<line x1="1237.40" y1="372.00" x2="1237.40" y2="545.00" stroke="#ececec" stroke-width="1" />
<line x1="1295.90" y1="372.00" x2="1295.90" y2="545.00" stroke="#ececec" stroke-width="1" />
<line x1="1354.40" y1="372.00" x2="1354.40" y2="545.00" stroke="#ececec" stroke-width="1" />
<line x1="1412.90" y1="372.00" x2="1412.90" y2="545.00" stroke="#ececec" stroke-width="1" />
<text x="1178.90" y="561.60" font-size="7.6" fill="#666" font-weight="normal" text-anchor="middle" >0.00</text>
<text x="1237.40" y="561.60" font-size="7.6" fill="#666" font-weight="normal" text-anchor="middle" >5.00</text>
<text x="1295.90" y="561.60" font-size="7.6" fill="#666" font-weight="normal" text-anchor="middle" >10.00</text>
<text x="1354.40" y="561.60" font-size="7.6" fill="#666" font-weight="normal" text-anchor="middle" >15.00</text>
<text x="1412.90" y="561.60" font-size="7.6" fill="#666" font-weight="normal" text-anchor="middle" >20.00</text>
<text x="1171.40" y="385.80" font-size="8.81" fill="#333" font-weight="normal" text-anchor="end" >2021, January</text>
<rect x="1178.90" y="378.20" width="123.67" height="8.00" fill="#1faa46" />
<text x="1171.40" y="400.04" font-size="8.81" fill="#333" font-weight="normal" text-anchor="end" >2021, February</text>
<rect x="1178.90" y="392.44" width="201.24" height="8.00" fill="#1faa46" />
<text x="1171.40" y="414.28" font-size="8.81" fill="#333" font-weight="normal" text-anchor="end" >2021, March</text>
<rect x="1178.90" y="406.68" width="188.37" height="8.00" fill="#1faa46" />
<text x="1171.40" y="428.52" font-size="8.81" fill="#333" font-weight="normal" text-anchor="end" >2021, April</text>
<rect x="1178.90" y="420.92" width="167.31" height="8.00" fill="#1faa46" />
<text x="1171.40" y="442.76" font-size="8.81" fill="#333" font-weight="normal" text-anchor="end" >2021, May</text>
<rect x="1178.90" y="435.16" width="248.04" height="8.00" fill="#1faa46" />
<text x="1171.40" y="457.00" font-size="8.81" fill="#333" font-weight="normal" text-anchor="end" >2021, June</text>
<rect x="1178.90" y="449.40" width="250.38" height="8.00" fill="#1faa46" />
<text x="1171.40" y="471.24" font-size="8.81" fill="#333" font-weight="normal" text-anchor="end" >2021, July</text>
<rect x="1178.90" y="463.64" width="221.95" height="8.00" fill="#1faa46" />
<text x="1171.40" y="485.48" font-size="8.81" fill="#333" font-weight="normal" text-anchor="end" >2021, August</text>
<rect x="1178.90" y="477.88" width="159.12" height="8.00" fill="#1faa46" />
<text x="1171.40" y="499.72" font-size="8.81" fill="#333" font-weight="normal" text-anchor="end" >2021, September</text>
<rect x="1178.90" y="492.12" width="126.36" height="8.00" fill="#1faa46" />
<text x="1171.40" y="513.96" font-size="8.81" fill="#333" font-weight="normal" text-anchor="end" >2021, October</text>
<rect x="1178.90" y="506.36" width="141.57" height="8.00" fill="#1faa46" />
<text x="1171.40" y="528.20" font-size="8.81" fill="#333" font-weight="normal" text-anchor="end" >2021, November</text>
<rect x="1178.90" y="520.60" width="250.38" height="8.00" fill="#1faa46" />
<text x="1171.40" y="542.44" font-size="8.81" fill="#333" font-weight="normal" text-anchor="end" >2021, December</text>
<rect x="1178.90" y="534.84" width="237.51" height="8.00" fill="#1faa46" />
<line x1="1261.00" y1="377.20" x2="1261.00" y2="543.60" stroke="#2a2a2a" stroke-width="1.2" />
<rect x="440.00" y="548.00" width="257.00" height="25.50" fill="#fff" />
<line x1="463.50" y1="550.70" x2="463.50" y2="569.70" stroke="#c4c4c4" stroke-width="1.1" />
<polyline points="454.4,560 463.5,550.7 472.5,560" fill="none" stroke="#c4c4c4" stroke-width="1.1"/>
<line x1="498.00" y1="550.50" x2="498.00" y2="569.30" stroke="#555" stroke-width="1.2" />
<polyline points="489,560.3 498,569.3 507,560.3" fill="none" stroke="#555" stroke-width="1.2"/>
<line x1="526.80" y1="550.50" x2="526.80" y2="569.30" stroke="#555" stroke-width="1.2" />
<polyline points="523.20,565.2 526.80,569.3 530.40,565.2" fill="none" stroke="#555" stroke-width="1.2"/>
<line x1="536.90" y1="550.50" x2="536.90" y2="569.30" stroke="#555" stroke-width="1.2" />
<polyline points="533.30,565.2 536.90,569.3 540.50,565.2" fill="none" stroke="#555" stroke-width="1.2"/>
<line x1="566.50" y1="550.50" x2="566.50" y2="559.20" stroke="#555" stroke-width="1.2" />
<polyline points="561.4,569.3 561.4,559.2 571.6,559.2 571.6,569.3" fill="none" stroke="#555" stroke-width="1.2"/>
<polyline points="557.80,565.2 561.40,569.3 565.00,565.2" fill="none" stroke="#555" stroke-width="1.2"/>
<polyline points="568.00,565.2 571.60,569.3 575.20,565.2" fill="none" stroke="#555" stroke-width="1.2"/>
<path d="M601.7,550.9 H621 L613.4,559.6 V567.6 H609.2 V559.6 Z" fill="none" stroke="#666" stroke-width="1.1" stroke-linejoin="miter"/>
<path d="M645.1,552.6 H637.6 V567 H654.6 V561.2 M649.3,552.6 H654.6 V558.6 M646,559.6 L654.2,553 M637.6,561.5 H645.5 V567" fill="none" stroke="#666" stroke-width="1.1"/>
<circle cx="672.90" cy="558.00" r="1.6" fill="#555" />
<circle cx="680.50" cy="558.00" r="1.6" fill="#555" />
<circle cx="688.00" cy="558.00" r="1.6" fill="#555" />
<text x="421.60" y="563.20" font-size="8.0" fill="#444" font-weight="normal" text-anchor="middle" >2021</text>
<rect x="197.00" y="573.00" width="500.50" height="219.00" fill="#fff" />
<rect x="697.90" y="573.00" width="355.50" height="219.00" fill="#fff" />
<rect x="1054.00" y="573.00" width="399.00" height="219.00" fill="#fff" />
<rect x="197.00" y="573.40" width="856.40" height="1.30" fill="#d2d2d2" />
<rect x="1053.40" y="573.00" width="1.00" height="219.00" fill="#e0e0e0" />
<rect x="697.20" y="584.00" width="1.30" height="208.00" fill="#1a2a6a" />
<rect x="1091.00" y="560.00" width="1.20" height="13.00" fill="#3a4f8a" />
<path d="M194.9,584.3 V572.2 H207.8 V576.4 H199.5 V584.3 Z" fill="#a8a8a8"/>
<rect x="438.4" y="572.5" width="15.9" height="3.7" rx="1.5" fill="#a8a8a8"/>
<path d="M684.8,572.2 H697.7 V584.3 H693.4 V576.4 H684.8 Z" fill="#a8a8a8"/>
<rect x="195.3" y="688.3" width="4" height="14.3" rx="1.5" fill="#a8a8a8"/>
<rect x="692.3" y="688.9" width="4.7" height="14.1" rx="1.5" fill="#a8a8a8"/>
<rect x="687.6" y="579.2" width="5" height="9.6" rx="2.5" fill="#b8b8b8"/>
<rect x="201.20" y="578.30" width="469.00" height="58.40" fill="#1170c8" />
<rect x="284.60" y="578.30" width="1.00" height="58.40" fill="#4a8ed0" />
<rect x="386.30" y="578.30" width="1.00" height="58.40" fill="#4a8ed0" />
<rect x="438.40" y="578.30" width="1.00" height="58.40" fill="#4a8ed0" />
<rect x="504.80" y="578.30" width="1.00" height="58.40" fill="#4a8ed0" />
<rect x="584.70" y="578.30" width="1.00" height="58.40" fill="#4a8ed0" />
<text x="243.15" y="593.00" font-size="12.3" fill="#fff" font-weight="normal" text-anchor="middle" >Unloading</text>
<text x="243.15" y="609.05" font-size="12.3" fill="#fff" font-weight="normal" text-anchor="middle" >Station</text>
<text x="335.95" y="593.00" font-size="12.3" fill="#fff" font-weight="normal" text-anchor="middle" >Turnover amount</text>
<text x="412.85" y="593.00" font-size="12.3" fill="#fff" font-weight="normal" text-anchor="middle" >Number</text>
<text x="412.85" y="609.05" font-size="12.3" fill="#fff" font-weight="normal" text-anchor="middle" >of turns</text>
<text x="472.10" y="593.00" font-size="12.3" fill="#fff" font-weight="normal" text-anchor="middle" >Average</text>
<text x="472.10" y="609.05" font-size="12.3" fill="#fff" font-weight="normal" text-anchor="middle" >customer</text>
<text x="472.10" y="625.10" font-size="12.3" fill="#fff" font-weight="normal" text-anchor="middle" >rate</text>
<text x="545.25" y="593.00" font-size="12.3" fill="#fff" font-weight="normal" text-anchor="middle" >Average</text>
<text x="545.25" y="609.05" font-size="12.3" fill="#fff" font-weight="normal" text-anchor="middle" >number of</text>
<text x="545.25" y="625.10" font-size="12.3" fill="#fff" font-weight="normal" text-anchor="middle" >round-trips</text>
<text x="627.70" y="593.00" font-size="12.3" fill="#fff" font-weight="normal" text-anchor="middle" >Days</text>
<text x="627.70" y="609.05" font-size="12.3" fill="#fff" font-weight="normal" text-anchor="middle" >Calculated</text>
<text x="627.70" y="625.10" font-size="12.3" fill="#fff" font-weight="normal" text-anchor="middle" >Average</text>
<polygon points="509.20,628.60 518.80,628.60 514.00,633.80" fill="#fff"/>
<clipPath id="t1"><rect x="197" y="636.7" width="500" height="156"/></clipPath><g clip-path="url(#t1)">
<rect x="201.20" y="636.70" width="469.00" height="34.30" fill="#e6e6e6" />
<rect x="201.20" y="671.00" width="469.00" height="34.30" fill="#fff" />
<rect x="201.20" y="705.30" width="469.00" height="34.30" fill="#e6e6e6" />
<rect x="201.20" y="739.60" width="469.00" height="34.30" fill="#fff" />
<rect x="201.20" y="773.90" width="469.00" height="34.30" fill="#e6e6e6" />
<rect x="390.90" y="637.50" width="44.00" height="32.70" fill="#b9a0d3" />
<rect x="443.80" y="637.50" width="6.10" height="32.70" fill="#a6d8ef" />
<rect x="390.90" y="671.80" width="15.80" height="32.70" fill="#b9a0d3" />
<rect x="443.80" y="671.80" width="6.70" height="32.70" fill="#a6d8ef" />
<rect x="390.90" y="706.10" width="19.30" height="32.70" fill="#b9a0d3" />
<rect x="443.80" y="706.10" width="22.80" height="32.70" fill="#a6d8ef" />
<rect x="390.90" y="740.40" width="3.10" height="32.70" fill="#b9a0d3" />
<rect x="443.80" y="740.40" width="7.60" height="32.70" fill="#a6d8ef" />
<rect x="390.90" y="774.70" width="5.50" height="32.70" fill="#b9a0d3" />
<rect x="443.80" y="774.70" width="15.50" height="32.70" fill="#a6d8ef" />
<rect x="284.60" y="636.70" width="1.00" height="160.00" fill="#c8c8c8" />
<rect x="386.30" y="636.70" width="1.00" height="160.00" fill="#c8c8c8" />
<rect x="438.40" y="636.70" width="1.00" height="160.00" fill="#c8c8c8" />
<rect x="504.80" y="636.70" width="1.00" height="160.00" fill="#c8c8c8" />
<rect x="584.70" y="636.70" width="1.00" height="160.00" fill="#c8c8c8" />
<line x1="390.9" y1="636.7" x2="390.9" y2="792" stroke="#999" stroke-width="0.8" stroke-dasharray="3 2"/>
<line x1="443.8" y1="636.7" x2="443.8" y2="792" stroke="#999" stroke-width="0.8" stroke-dasharray="3 2"/>
<rect x="205.70" y="641.00" width="6" height="6" fill="none" stroke="#b8b8b8" stroke-width="0.9"/>
<line x1="207.20" y1="644.00" x2="210.20" y2="644.00" stroke="#888" stroke-width="0.8" />
<line x1="208.70" y1="642.50" x2="208.70" y2="645.50" stroke="#888" stroke-width="0.8" />
<text x="219.30" y="650.50" font-size="12.1" fill="#252423" font-weight="normal" text-anchor="start" >Unloading</text>
<text x="219.30" y="666.90" font-size="12.1" fill="#252423" font-weight="normal" text-anchor="start" >station 51</text>
<text x="381.80" y="650.50" font-size="12.1" fill="#252423" font-weight="normal" text-anchor="end" >9 453 736</text>
<text x="434.50" y="650.50" font-size="12.1" fill="#252423" font-weight="normal" text-anchor="end" >8 817</text>
<text x="500.90" y="650.50" font-size="12.1" fill="#252423" font-weight="normal" text-anchor="end" >5 328</text>
<text x="580.80" y="650.50" font-size="12.1" fill="#252423" font-weight="normal" text-anchor="end" >7,83</text>
<text x="665.80" y="650.50" font-size="12.1" fill="#252423" font-weight="normal" text-anchor="end" >5,19</text>
<polyline points="510.5,645.80 514,650.00 522.4,641.10" fill="none" stroke="#3d8b4a" stroke-width="2"/>
<rect x="205.70" y="675.30" width="6" height="6" fill="none" stroke="#b8b8b8" stroke-width="0.9"/>
<line x1="207.20" y1="678.30" x2="210.20" y2="678.30" stroke="#888" stroke-width="0.8" />
<line x1="208.70" y1="676.80" x2="208.70" y2="679.80" stroke="#888" stroke-width="0.8" />
<text x="219.30" y="684.80" font-size="12.1" fill="#252423" font-weight="normal" text-anchor="start" >Unloading</text>
<text x="219.30" y="701.20" font-size="12.1" fill="#252423" font-weight="normal" text-anchor="start" >station 60</text>
<text x="381.80" y="684.80" font-size="12.1" fill="#252423" font-weight="normal" text-anchor="end" >-2 198 204</text>
<text x="434.50" y="684.80" font-size="12.1" fill="#252423" font-weight="normal" text-anchor="end" >3 248</text>
<text x="500.90" y="684.80" font-size="12.1" fill="#252423" font-weight="normal" text-anchor="end" >5 794</text>
<text x="580.80" y="684.80" font-size="12.1" fill="#252423" font-weight="normal" text-anchor="end" >4,95</text>
<text x="665.80" y="684.80" font-size="12.1" fill="#252423" font-weight="normal" text-anchor="end" >6,63</text>
<path d="M511,673.40 L522.5,684.80 M522.5,673.40 L511,684.80" stroke="#d63b34" stroke-width="2.3"/>
<rect x="205.70" y="709.60" width="6" height="6" fill="none" stroke="#b8b8b8" stroke-width="0.9"/>
<line x1="207.20" y1="712.60" x2="210.20" y2="712.60" stroke="#888" stroke-width="0.8" />
<line x1="208.70" y1="711.10" x2="208.70" y2="714.10" stroke="#888" stroke-width="0.8" />
<text x="219.30" y="719.10" font-size="12.1" fill="#252423" font-weight="normal" text-anchor="start" >Unloading</text>
<text x="219.30" y="735.50" font-size="12.1" fill="#252423" font-weight="normal" text-anchor="start" >station 58</text>
<text x="381.80" y="719.10" font-size="12.1" fill="#252423" font-weight="normal" text-anchor="end" >5 073 890</text>
<text x="434.50" y="719.10" font-size="12.1" fill="#252423" font-weight="normal" text-anchor="end" >3 883</text>
<text x="500.90" y="719.10" font-size="12.1" fill="#252423" font-weight="normal" text-anchor="end" >18 876</text>
<text x="580.80" y="719.10" font-size="12.1" fill="#252423" font-weight="normal" text-anchor="end" >3,26</text>
<text x="665.80" y="719.10" font-size="12.1" fill="#252423" font-weight="normal" text-anchor="end" >8,11</text>
<path d="M511,707.70 L522.5,719.10 M522.5,707.70 L511,719.10" stroke="#d63b34" stroke-width="2.3"/>
<rect x="205.70" y="743.90" width="6" height="6" fill="none" stroke="#b8b8b8" stroke-width="0.9"/>
<line x1="207.20" y1="746.90" x2="210.20" y2="746.90" stroke="#888" stroke-width="0.8" />
<line x1="208.70" y1="745.40" x2="208.70" y2="748.40" stroke="#888" stroke-width="0.8" />
<text x="219.30" y="753.40" font-size="12.1" fill="#252423" font-weight="normal" text-anchor="start" >Unloading</text>
<text x="219.30" y="769.80" font-size="12.1" fill="#252423" font-weight="normal" text-anchor="start" >station 59</text>
<text x="381.80" y="753.40" font-size="12.1" fill="#252423" font-weight="normal" text-anchor="end" >500 613</text>
<text x="434.50" y="753.40" font-size="12.1" fill="#252423" font-weight="normal" text-anchor="end" >616</text>
<text x="500.90" y="753.40" font-size="12.1" fill="#252423" font-weight="normal" text-anchor="end" >6 594</text>
<text x="580.80" y="753.40" font-size="12.1" fill="#252423" font-weight="normal" text-anchor="end" >1,93</text>
<text x="665.80" y="753.40" font-size="12.1" fill="#252423" font-weight="normal" text-anchor="end" >5,32</text>
<path d="M511,742.00 L522.5,753.40 M522.5,742.00 L511,753.40" stroke="#d63b34" stroke-width="2.3"/>
<rect x="205.70" y="778.20" width="6" height="6" fill="none" stroke="#b8b8b8" stroke-width="0.9"/>
<line x1="207.20" y1="781.20" x2="210.20" y2="781.20" stroke="#888" stroke-width="0.8" />
<line x1="208.70" y1="779.70" x2="208.70" y2="782.70" stroke="#888" stroke-width="0.8" />
<text x="219.30" y="787.70" font-size="12.1" fill="#252423" font-weight="normal" text-anchor="start" >Unloading</text>
<text x="219.30" y="804.10" font-size="12.1" fill="#252423" font-weight="normal" text-anchor="start" >station 57</text>
<text x="381.80" y="787.70" font-size="12.1" fill="#252423" font-weight="normal" text-anchor="end" >1 747 972</text>
<text x="434.50" y="787.70" font-size="12.1" fill="#252423" font-weight="normal" text-anchor="end" >1 143</text>
<text x="500.90" y="787.70" font-size="12.1" fill="#252423" font-weight="normal" text-anchor="end" >12 859</text>
<text x="580.80" y="787.70" font-size="12.1" fill="#252423" font-weight="normal" text-anchor="end" >1,90</text>
<text x="665.80" y="787.70" font-size="12.1" fill="#252423" font-weight="normal" text-anchor="end" >9,67</text>
<path d="M511,776.30 L522.5,787.70 M522.5,776.30 L511,787.70" stroke="#d63b34" stroke-width="2.3"/>
</g>
<rect x="702.20" y="577.00" width="335.40" height="41.60" fill="#1170c8" />
<rect x="845.00" y="577.00" width="1.00" height="41.60" fill="#4a8ed0" />
<rect x="938.20" y="577.00" width="1.00" height="41.60" fill="#4a8ed0" />
<text x="709.50" y="590.80" font-size="11.92" fill="#fff" font-weight="normal" text-anchor="start" >Item of Income/Expense</text>
<text x="892.10" y="590.80" font-size="12.1" fill="#fff" font-weight="normal" text-anchor="middle" >Turnover</text>
<text x="892.10" y="607.40" font-size="12.1" fill="#fff" font-weight="normal" text-anchor="middle" >amount</text>
<text x="988.20" y="590.80" font-size="12.1" fill="#fff" font-weight="normal" text-anchor="middle" >Turnover</text>
<text x="988.20" y="607.40" font-size="12.1" fill="#fff" font-weight="normal" text-anchor="middle" >amount PY</text>
<polygon points="849.30,611.10 858.90,611.10 854.10,616.30" fill="#fff"/>
<clipPath id="t2"><rect x="698" y="618.6" width="350" height="174"/></clipPath><g clip-path="url(#t2)">
<rect x="702.20" y="635.20" width="335.40" height="18.28" fill="#e6e6e6" />
<rect x="702.20" y="671.76" width="335.40" height="18.28" fill="#e6e6e6" />
<rect x="702.20" y="708.32" width="335.40" height="18.28" fill="#e6e6e6" />
<rect x="702.20" y="744.88" width="335.40" height="18.28" fill="#e6e6e6" />
<rect x="702.20" y="781.44" width="335.40" height="18.28" fill="#e6e6e6" />
<rect x="845.00" y="618.60" width="1.00" height="180.00" fill="#c8c8c8" />
<rect x="938.20" y="618.60" width="1.00" height="180.00" fill="#c8c8c8" />
<rect x="707.00" y="623.60" width="6" height="6" fill="none" stroke="#b8b8b8" stroke-width="0.9"/>
<line x1="708.50" y1="626.60" x2="711.50" y2="626.60" stroke="#888" stroke-width="0.8" />
<text x="720.80" y="632.40" font-size="13.4" fill="#111" font-weight="bold" text-anchor="start" >Item 2</text>
<text x="933.80" y="632.40" font-size="13.56" fill="#111" font-weight="bold" text-anchor="end" >126 271 995</text>
<text x="1033.30" y="632.40" font-size="13.56" fill="#111" font-weight="bold" text-anchor="end" >278 452 863</text>
<rect x="719.90" y="638.30" width="6" height="6" fill="none" stroke="#b8b8b8" stroke-width="0.9"/>
<line x1="721.40" y1="641.30" x2="724.40" y2="641.30" stroke="#888" stroke-width="0.8" />
<line x1="722.90" y1="639.80" x2="722.90" y2="642.80" stroke="#888" stroke-width="0.8" />
<text x="733.70" y="648.10" font-size="11.84" fill="#252423" font-weight="normal" text-anchor="start" >Company 166</text>
<text x="933.80" y="648.10" font-size="11.91" fill="#252423" font-weight="normal" text-anchor="end" >51 089 216</text>
<text x="1033.30" y="648.10" font-size="11.91" fill="#252423" font-weight="normal" text-anchor="end" >44 302 621</text>
<rect x="719.90" y="656.58" width="6" height="6" fill="none" stroke="#b8b8b8" stroke-width="0.9"/>
<line x1="721.40" y1="659.58" x2="724.40" y2="659.58" stroke="#888" stroke-width="0.8" />
<line x1="722.90" y1="658.08" x2="722.90" y2="661.08" stroke="#888" stroke-width="0.8" />
<text x="733.70" y="666.38" font-size="11.84" fill="#252423" font-weight="normal" text-anchor="start" >Company 218</text>
<text x="933.80" y="666.38" font-size="11.91" fill="#252423" font-weight="normal" text-anchor="end" >14 340 950</text>
<text x="1033.30" y="666.38" font-size="11.91" fill="#252423" font-weight="normal" text-anchor="end" >12 994 290</text>
<rect x="719.90" y="674.86" width="6" height="6" fill="none" stroke="#b8b8b8" stroke-width="0.9"/>
<line x1="721.40" y1="677.86" x2="724.40" y2="677.86" stroke="#888" stroke-width="0.8" />
<line x1="722.90" y1="676.36" x2="722.90" y2="679.36" stroke="#888" stroke-width="0.8" />
<text x="733.70" y="684.66" font-size="11.84" fill="#252423" font-weight="normal" text-anchor="start" >Company 97</text>
<text x="933.80" y="684.66" font-size="11.91" fill="#252423" font-weight="normal" text-anchor="end" >11 435 199</text>
<text x="1033.30" y="684.66" font-size="11.91" fill="#252423" font-weight="normal" text-anchor="end" >16 171 369</text>
<rect x="719.90" y="693.14" width="6" height="6" fill="none" stroke="#b8b8b8" stroke-width="0.9"/>
<line x1="721.40" y1="696.14" x2="724.40" y2="696.14" stroke="#888" stroke-width="0.8" />
<line x1="722.90" y1="694.64" x2="722.90" y2="697.64" stroke="#888" stroke-width="0.8" />
<text x="733.70" y="702.94" font-size="11.84" fill="#252423" font-weight="normal" text-anchor="start" >Company 172</text>
<text x="933.80" y="702.94" font-size="11.91" fill="#252423" font-weight="normal" text-anchor="end" >9 840 274</text>
<text x="1033.30" y="702.94" font-size="11.91" fill="#252423" font-weight="normal" text-anchor="end" >19 820 433</text>
<rect x="719.90" y="711.42" width="6" height="6" fill="none" stroke="#b8b8b8" stroke-width="0.9"/>
<line x1="721.40" y1="714.42" x2="724.40" y2="714.42" stroke="#888" stroke-width="0.8" />
<line x1="722.90" y1="712.92" x2="722.90" y2="715.92" stroke="#888" stroke-width="0.8" />
<text x="733.70" y="721.22" font-size="11.84" fill="#252423" font-weight="normal" text-anchor="start" >Company 94</text>
<text x="933.80" y="721.22" font-size="11.91" fill="#252423" font-weight="normal" text-anchor="end" >9 727 422</text>
<text x="1033.30" y="721.22" font-size="11.91" fill="#252423" font-weight="normal" text-anchor="end" >14 086 485</text>
<rect x="719.90" y="729.70" width="6" height="6" fill="none" stroke="#b8b8b8" stroke-width="0.9"/>
<line x1="721.40" y1="732.70" x2="724.40" y2="732.70" stroke="#888" stroke-width="0.8" />
<line x1="722.90" y1="731.20" x2="722.90" y2="734.20" stroke="#888" stroke-width="0.8" />
<text x="733.70" y="739.50" font-size="11.84" fill="#252423" font-weight="normal" text-anchor="start" >Company 207</text>
<text x="933.80" y="739.50" font-size="11.91" fill="#252423" font-weight="normal" text-anchor="end" >8 751 369</text>
<text x="1033.30" y="739.50" font-size="11.91" fill="#252423" font-weight="normal" text-anchor="end" >8 871 789</text>
<rect x="719.90" y="747.98" width="6" height="6" fill="none" stroke="#b8b8b8" stroke-width="0.9"/>
<line x1="721.40" y1="750.98" x2="724.40" y2="750.98" stroke="#888" stroke-width="0.8" />
<line x1="722.90" y1="749.48" x2="722.90" y2="752.48" stroke="#888" stroke-width="0.8" />
<text x="733.70" y="757.78" font-size="11.84" fill="#252423" font-weight="normal" text-anchor="start" >Company 129</text>
<text x="933.80" y="757.78" font-size="11.91" fill="#252423" font-weight="normal" text-anchor="end" >8 336 800</text>
<text x="1033.30" y="757.78" font-size="11.91" fill="#252423" font-weight="normal" text-anchor="end" >18 845 645</text>
<rect x="719.90" y="766.26" width="6" height="6" fill="none" stroke="#b8b8b8" stroke-width="0.9"/>
<line x1="721.40" y1="769.26" x2="724.40" y2="769.26" stroke="#888" stroke-width="0.8" />
<line x1="722.90" y1="767.76" x2="722.90" y2="770.76" stroke="#888" stroke-width="0.8" />
<text x="733.70" y="776.06" font-size="11.84" fill="#252423" font-weight="normal" text-anchor="start" >Company 34</text>
<text x="933.80" y="776.06" font-size="11.91" fill="#252423" font-weight="normal" text-anchor="end" >7 447 880</text>
<text x="1033.30" y="776.06" font-size="11.91" fill="#252423" font-weight="normal" text-anchor="end" >13 589 979</text>
<rect x="719.90" y="784.54" width="6" height="6" fill="none" stroke="#b8b8b8" stroke-width="0.9"/>
<line x1="721.40" y1="787.54" x2="724.40" y2="787.54" stroke="#888" stroke-width="0.8" />
<line x1="722.90" y1="786.04" x2="722.90" y2="789.04" stroke="#888" stroke-width="0.8" />
<text x="933.80" y="794.34" font-size="11.91" fill="#252423" font-weight="normal" text-anchor="end" >5 653 611</text>
<text x="1033.30" y="794.34" font-size="11.91" fill="#252423" font-weight="normal" text-anchor="end" >6 607 309</text>
</g>
<rect x="1044.9" y="577.5" width="4.2" height="62" rx="2.1" fill="#c2c2c2"/>
<rect x="1057.30" y="577.00" width="385.50" height="25.90" fill="#1170c8" />
<rect x="1173.40" y="577.00" width="1.00" height="25.90" fill="#4a8ed0" />
<rect x="1255.10" y="577.00" width="1.00" height="25.90" fill="#4a8ed0" />
<rect x="1337.70" y="577.00" width="1.00" height="25.90" fill="#4a8ed0" />
<rect x="1417.90" y="577.00" width="1.00" height="25.90" fill="#4a8ed0" />
<text x="1115.60" y="590.80" font-size="11.52" fill="#fff" font-weight="normal" text-anchor="middle" >Company</text>
<text x="1214.75" y="590.80" font-size="11.52" fill="#fff" font-weight="normal" text-anchor="middle" >January</text>
<text x="1296.90" y="590.80" font-size="11.52" fill="#fff" font-weight="normal" text-anchor="middle" >February</text>
<text x="1378.30" y="590.80" font-size="11.52" fill="#fff" font-weight="normal" text-anchor="middle" >March</text>
<polygon points="1061.30,594.70 1070.90,594.70 1066.10,599.90" fill="#fff"/>
<clipPath id="t3"><rect x="1054" y="602.9" width="388.8" height="190"/></clipPath><g clip-path="url(#t3)">
<rect x="1057.30" y="602.90" width="385.50" height="18.22" fill="#e6e6e6" />
<rect x="1057.30" y="639.34" width="385.50" height="18.22" fill="#e6e6e6" />
<rect x="1057.30" y="675.78" width="385.50" height="18.22" fill="#e6e6e6" />
<rect x="1057.30" y="712.22" width="385.50" height="18.22" fill="#e6e6e6" />
<rect x="1057.30" y="748.66" width="385.50" height="18.22" fill="#e6e6e6" />
<rect x="1057.30" y="785.10" width="385.50" height="18.22" fill="#e6e6e6" />
<rect x="1173.40" y="602.90" width="1.00" height="190.00" fill="#c8c8c8" />
<rect x="1255.10" y="602.90" width="1.00" height="190.00" fill="#c8c8c8" />
<rect x="1337.70" y="602.90" width="1.00" height="190.00" fill="#c8c8c8" />
<rect x="1417.90" y="602.90" width="1.00" height="190.00" fill="#c8c8c8" />
<rect x="1062.30" y="607.40" width="6" height="6" fill="none" stroke="#b8b8b8" stroke-width="0.9"/>
<line x1="1063.80" y1="610.40" x2="1066.80" y2="610.40" stroke="#888" stroke-width="0.8" />
<line x1="1065.30" y1="608.90" x2="1065.30" y2="611.90" stroke="#888" stroke-width="0.8" />
<text x="1075.30" y="616.90" font-size="11.83" fill="#252423" font-weight="normal" text-anchor="start" >Company 97</text>
<text x="1250.70" y="616.90" font-size="12.05" fill="#252423" font-weight="normal" text-anchor="end" >2 232 580</text>
<text x="1333.90" y="616.90" font-size="12.05" fill="#252423" font-weight="normal" text-anchor="end" >3 372 093</text>
<text x="1414.10" y="616.90" font-size="12.05" fill="#252423" font-weight="normal" text-anchor="end" >1 528 435</text>
<text x="1438.20" y="616.90" font-size="12.05" fill="#252423" font-weight="normal" text-anchor="start" >1</text>
<rect x="1062.30" y="625.62" width="6" height="6" fill="none" stroke="#b8b8b8" stroke-width="0.9"/>
<line x1="1063.80" y1="628.62" x2="1066.80" y2="628.62" stroke="#888" stroke-width="0.8" />
<line x1="1065.30" y1="627.12" x2="1065.30" y2="630.12" stroke="#888" stroke-width="0.8" />
<text x="1075.30" y="635.12" font-size="11.83" fill="#252423" font-weight="normal" text-anchor="start" >Company 96</text>
<text x="1250.70" y="635.12" font-size="12.05" fill="#252423" font-weight="normal" text-anchor="end" >-44 418</text>
<text x="1333.90" y="635.12" font-size="12.05" fill="#252423" font-weight="normal" text-anchor="end" >-44 371</text>
<text x="1414.10" y="635.12" font-size="12.05" fill="#252423" font-weight="normal" text-anchor="end" >-58 539</text>
<rect x="1062.30" y="643.84" width="6" height="6" fill="none" stroke="#b8b8b8" stroke-width="0.9"/>
<line x1="1063.80" y1="646.84" x2="1066.80" y2="646.84" stroke="#888" stroke-width="0.8" />
<line x1="1065.30" y1="645.34" x2="1065.30" y2="648.34" stroke="#888" stroke-width="0.8" />
<text x="1075.30" y="653.34" font-size="11.83" fill="#252423" font-weight="normal" text-anchor="start" >Company 94</text>
<text x="1250.70" y="653.34" font-size="12.05" fill="#252423" font-weight="normal" text-anchor="end" >1 072 019</text>
<text x="1333.90" y="653.34" font-size="12.05" fill="#252423" font-weight="normal" text-anchor="end" >1 128 894</text>
<text x="1414.10" y="653.34" font-size="12.05" fill="#252423" font-weight="normal" text-anchor="end" >985 583</text>
<rect x="1062.30" y="662.06" width="6" height="6" fill="none" stroke="#b8b8b8" stroke-width="0.9"/>
<line x1="1063.80" y1="665.06" x2="1066.80" y2="665.06" stroke="#888" stroke-width="0.8" />
<line x1="1065.30" y1="663.56" x2="1065.30" y2="666.56" stroke="#888" stroke-width="0.8" />
<text x="1075.30" y="671.56" font-size="11.83" fill="#252423" font-weight="normal" text-anchor="start" >Company 93</text>
<text x="1250.70" y="671.56" font-size="12.05" fill="#252423" font-weight="normal" text-anchor="end" >13 229</text>
<text x="1333.90" y="671.56" font-size="12.05" fill="#252423" font-weight="normal" text-anchor="end" >28 061</text>
<text x="1414.10" y="671.56" font-size="12.05" fill="#252423" font-weight="normal" text-anchor="end" >15 239</text>
<rect x="1062.30" y="680.28" width="6" height="6" fill="none" stroke="#b8b8b8" stroke-width="0.9"/>
<line x1="1063.80" y1="683.28" x2="1066.80" y2="683.28" stroke="#888" stroke-width="0.8" />
<line x1="1065.30" y1="681.78" x2="1065.30" y2="684.78" stroke="#888" stroke-width="0.8" />
<text x="1075.30" y="689.78" font-size="11.83" fill="#252423" font-weight="normal" text-anchor="start" >Company 82</text>
<text x="1250.70" y="689.78" font-size="12.05" fill="#252423" font-weight="normal" text-anchor="end" >-14 659</text>
<text x="1333.90" y="689.78" font-size="12.05" fill="#252423" font-weight="normal" text-anchor="end" >-14 493</text>
<text x="1414.10" y="689.78" font-size="12.05" fill="#252423" font-weight="normal" text-anchor="end" >-17 603</text>
<rect x="1062.30" y="698.50" width="6" height="6" fill="none" stroke="#b8b8b8" stroke-width="0.9"/>
<line x1="1063.80" y1="701.50" x2="1066.80" y2="701.50" stroke="#888" stroke-width="0.8" />
<line x1="1065.30" y1="700.00" x2="1065.30" y2="703.00" stroke="#888" stroke-width="0.8" />
<text x="1075.30" y="708.00" font-size="11.83" fill="#252423" font-weight="normal" text-anchor="start" >Company 76</text>
<text x="1250.70" y="708.00" font-size="12.05" fill="#252423" font-weight="normal" text-anchor="end" >76 452</text>
<text x="1333.90" y="708.00" font-size="12.05" fill="#252423" font-weight="normal" text-anchor="end" >50 759</text>
<text x="1414.10" y="708.00" font-size="12.05" fill="#252423" font-weight="normal" text-anchor="end" >29 371</text>
<rect x="1062.30" y="716.72" width="6" height="6" fill="none" stroke="#b8b8b8" stroke-width="0.9"/>
<line x1="1063.80" y1="719.72" x2="1066.80" y2="719.72" stroke="#888" stroke-width="0.8" />
<line x1="1065.30" y1="718.22" x2="1065.30" y2="721.22" stroke="#888" stroke-width="0.8" />
<text x="1075.30" y="726.22" font-size="11.83" fill="#252423" font-weight="normal" text-anchor="start" >Company 75</text>
<text x="1250.70" y="726.22" font-size="12.05" fill="#252423" font-weight="normal" text-anchor="end" >99 111</text>
<text x="1333.90" y="726.22" font-size="12.05" fill="#252423" font-weight="normal" text-anchor="end" >101 607</text>
<text x="1414.10" y="726.22" font-size="12.05" fill="#252423" font-weight="normal" text-anchor="end" >159 457</text>
<rect x="1062.30" y="734.94" width="6" height="6" fill="none" stroke="#b8b8b8" stroke-width="0.9"/>
<line x1="1063.80" y1="737.94" x2="1066.80" y2="737.94" stroke="#888" stroke-width="0.8" />
<line x1="1065.30" y1="736.44" x2="1065.30" y2="739.44" stroke="#888" stroke-width="0.8" />
<text x="1075.30" y="744.44" font-size="11.83" fill="#252423" font-weight="normal" text-anchor="start" >Company 74</text>
<text x="1250.70" y="744.44" font-size="12.05" fill="#252423" font-weight="normal" text-anchor="end" >17 997</text>
<text x="1333.90" y="744.44" font-size="12.05" fill="#252423" font-weight="normal" text-anchor="end" >14 327</text>
<text x="1414.10" y="744.44" font-size="12.05" fill="#252423" font-weight="normal" text-anchor="end" >12 874</text>
<rect x="1062.30" y="753.16" width="6" height="6" fill="none" stroke="#b8b8b8" stroke-width="0.9"/>
<line x1="1063.80" y1="756.16" x2="1066.80" y2="756.16" stroke="#888" stroke-width="0.8" />
<line x1="1065.30" y1="754.66" x2="1065.30" y2="757.66" stroke="#888" stroke-width="0.8" />
<text x="1075.30" y="762.66" font-size="11.83" fill="#252423" font-weight="normal" text-anchor="start" >Company 34</text>
<text x="1250.70" y="762.66" font-size="12.05" fill="#252423" font-weight="normal" text-anchor="end" >-2 564 376</text>
<text x="1333.90" y="762.66" font-size="12.05" fill="#252423" font-weight="normal" text-anchor="end" >-2 097 144</text>
<text x="1414.10" y="762.66" font-size="12.05" fill="#252423" font-weight="normal" text-anchor="end" >-4 222 179</text>
<text x="1438.20" y="762.66" font-size="12.05" fill="#252423" font-weight="normal" text-anchor="start" >-2</text>
<rect x="1062.30" y="771.38" width="6" height="6" fill="none" stroke="#b8b8b8" stroke-width="0.9"/>
<line x1="1063.80" y1="774.38" x2="1066.80" y2="774.38" stroke="#888" stroke-width="0.8" />
<line x1="1065.30" y1="772.88" x2="1065.30" y2="775.88" stroke="#888" stroke-width="0.8" />
<text x="1075.30" y="780.88" font-size="11.83" fill="#252423" font-weight="normal" text-anchor="start" >Company 28</text>
<text x="1250.70" y="780.88" font-size="12.05" fill="#252423" font-weight="normal" text-anchor="end" >883 978</text>
<text x="1333.90" y="780.88" font-size="12.05" fill="#252423" font-weight="normal" text-anchor="end" >739 823</text>
<text x="1414.10" y="780.88" font-size="12.05" fill="#252423" font-weight="normal" text-anchor="end" >1 513 509</text>
<rect x="1062.30" y="789.60" width="6" height="6" fill="none" stroke="#b8b8b8" stroke-width="0.9"/>
<line x1="1063.80" y1="792.60" x2="1066.80" y2="792.60" stroke="#888" stroke-width="0.8" />
<line x1="1065.30" y1="791.10" x2="1065.30" y2="794.10" stroke="#888" stroke-width="0.8" />
<text x="1075.30" y="799.10" font-size="11.83" fill="#252423" font-weight="normal" text-anchor="start" >Company 27</text>
<text x="1250.70" y="799.10" font-size="12.05" fill="#252423" font-weight="normal" text-anchor="end" >1 480 442</text>
<text x="1333.90" y="799.10" font-size="12.05" fill="#252423" font-weight="normal" text-anchor="end" >942 978</text>
<text x="1414.10" y="799.10" font-size="12.05" fill="#252423" font-weight="normal" text-anchor="end" >958 122</text>
</g>
<rect x="1444.2" y="577.5" width="4.3" height="69" rx="2.1" fill="#c2c2c2"/>
</svg></body></html>
